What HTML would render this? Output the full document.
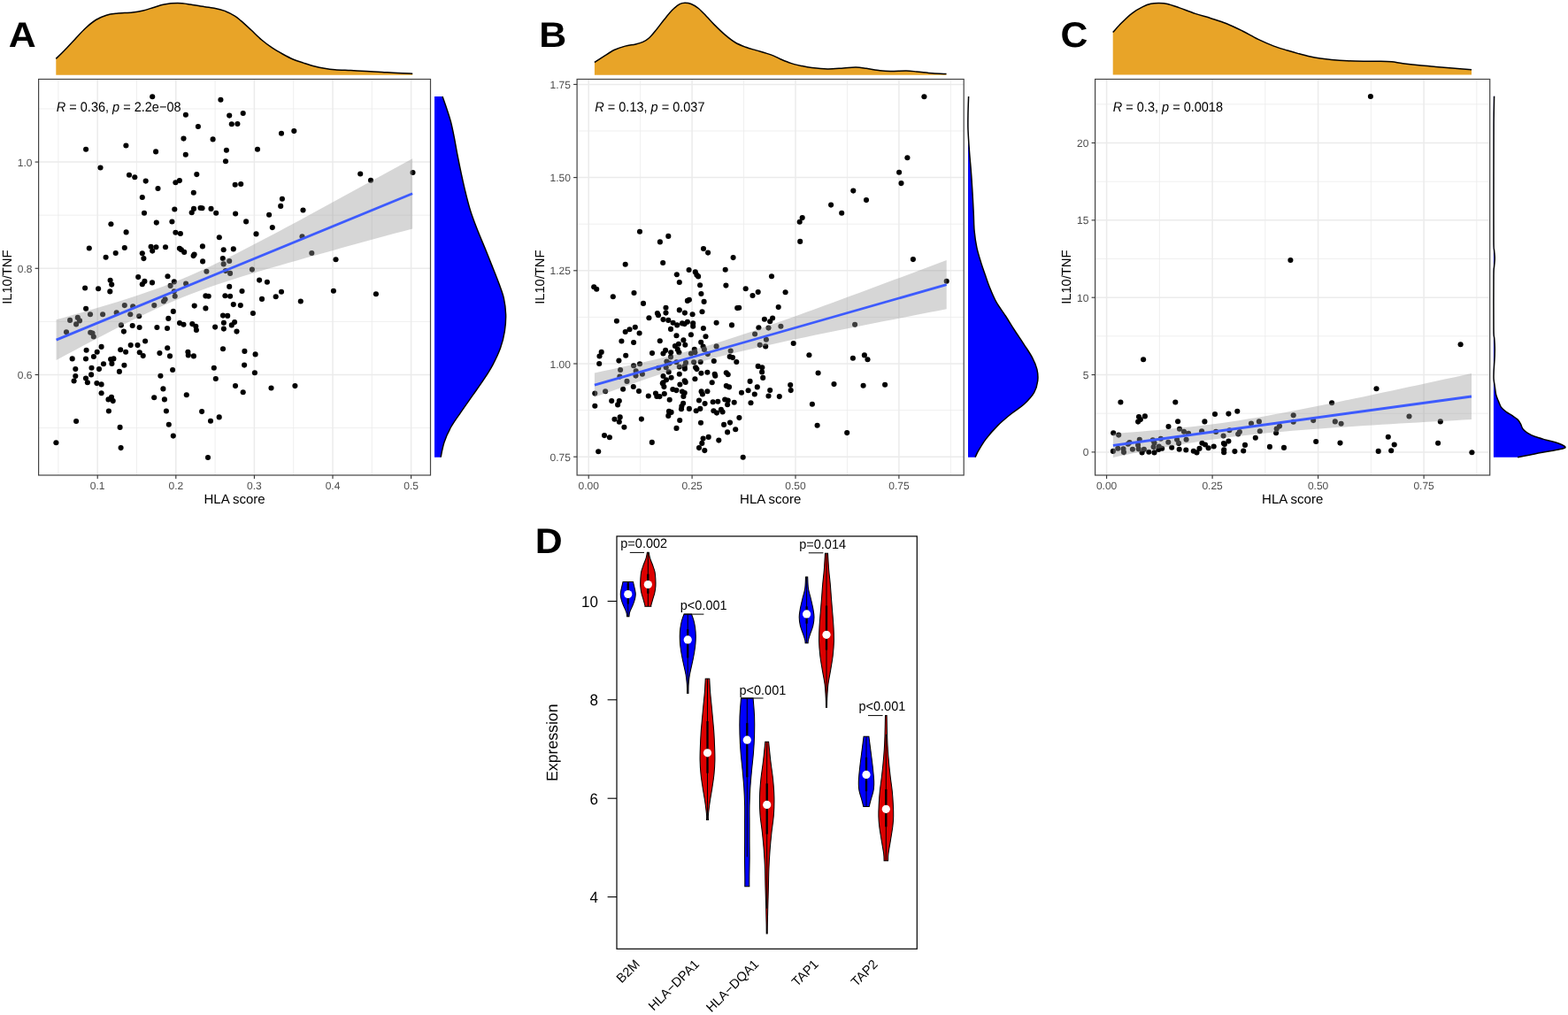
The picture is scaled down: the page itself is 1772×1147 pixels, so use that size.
<!DOCTYPE html>
<html><head><meta charset="utf-8"><style>
html,body{margin:0;padding:0;background:#fff;overflow:hidden;}
svg{display:block;}
</style></head><body>
<svg width="1772" height="1147" viewBox="0 0 1772 1147" style="font-family:'Liberation Sans',Arial,sans-serif;text-rendering:geometricPrecision">
<rect width="1772" height="1147" fill="#fff"/>
<g>
<line x1="43.6" y1="483.61" x2="486.5" y2="483.61" stroke="#EBEBEB" stroke-width="0.8"/>
<line x1="43.6" y1="363.39" x2="486.5" y2="363.39" stroke="#EBEBEB" stroke-width="0.8"/>
<line x1="43.6" y1="243.17" x2="486.5" y2="243.17" stroke="#EBEBEB" stroke-width="0.8"/>
<line x1="43.6" y1="122.95" x2="486.5" y2="122.95" stroke="#EBEBEB" stroke-width="0.8"/>
<line x1="65.9" y1="89.5" x2="65.9" y2="537" stroke="#EBEBEB" stroke-width="0.8"/>
<line x1="154.5" y1="89.5" x2="154.5" y2="537" stroke="#EBEBEB" stroke-width="0.8"/>
<line x1="243.1" y1="89.5" x2="243.1" y2="537" stroke="#EBEBEB" stroke-width="0.8"/>
<line x1="331.7" y1="89.5" x2="331.7" y2="537" stroke="#EBEBEB" stroke-width="0.8"/>
<line x1="420.3" y1="89.5" x2="420.3" y2="537" stroke="#EBEBEB" stroke-width="0.8"/>
<line x1="43.6" y1="423.5" x2="486.5" y2="423.5" stroke="#EBEBEB" stroke-width="1.5"/>
<line x1="43.6" y1="303.28" x2="486.5" y2="303.28" stroke="#EBEBEB" stroke-width="1.5"/>
<line x1="43.6" y1="183.06" x2="486.5" y2="183.06" stroke="#EBEBEB" stroke-width="1.5"/>
<line x1="110.2" y1="89.5" x2="110.2" y2="537" stroke="#EBEBEB" stroke-width="1.5"/>
<line x1="198.8" y1="89.5" x2="198.8" y2="537" stroke="#EBEBEB" stroke-width="1.5"/>
<line x1="287.4" y1="89.5" x2="287.4" y2="537" stroke="#EBEBEB" stroke-width="1.5"/>
<line x1="376" y1="89.5" x2="376" y2="537" stroke="#EBEBEB" stroke-width="1.5"/>
<line x1="464.6" y1="89.5" x2="464.6" y2="537" stroke="#EBEBEB" stroke-width="1.5"/>
<circle cx="172.2" cy="109.3" r="3.05"/>
<circle cx="249.4" cy="112.8" r="3.05"/>
<circle cx="209.9" cy="129.8" r="3.05"/>
<circle cx="259.2" cy="130.6" r="3.05"/>
<circle cx="261.8" cy="140.3" r="3.05"/>
<circle cx="268.4" cy="140" r="3.05"/>
<circle cx="223.9" cy="143" r="3.05"/>
<circle cx="207.5" cy="156.6" r="3.05"/>
<circle cx="240.6" cy="157.4" r="3.05"/>
<circle cx="142.4" cy="164.5" r="3.05"/>
<circle cx="97.1" cy="168.8" r="3.05"/>
<circle cx="176.1" cy="171.4" r="3.05"/>
<circle cx="209.8" cy="174.7" r="3.05"/>
<circle cx="255.9" cy="169.8" r="3.05"/>
<circle cx="255" cy="182.3" r="3.05"/>
<circle cx="113.5" cy="189.5" r="3.05"/>
<circle cx="146" cy="197.8" r="3.05"/>
<circle cx="152.3" cy="200.2" r="3.05"/>
<circle cx="164.7" cy="204.6" r="3.05"/>
<circle cx="198.4" cy="206.2" r="3.05"/>
<circle cx="202.9" cy="204.1" r="3.05"/>
<circle cx="222.3" cy="197.1" r="3.05"/>
<circle cx="265.7" cy="208.7" r="3.05"/>
<circle cx="178.5" cy="213" r="3.05"/>
<circle cx="218.8" cy="217.7" r="3.05"/>
<circle cx="160.8" cy="223" r="3.05"/>
<circle cx="274.7" cy="128" r="3.05"/>
<circle cx="318" cy="150.7" r="3.05"/>
<circle cx="332.3" cy="148.1" r="3.05"/>
<circle cx="291" cy="168.8" r="3.05"/>
<circle cx="407.2" cy="196.5" r="3.05"/>
<circle cx="419" cy="203.7" r="3.05"/>
<circle cx="466.5" cy="195" r="3.05"/>
<circle cx="272.2" cy="208" r="3.05"/>
<circle cx="318.9" cy="224.8" r="3.05"/>
<circle cx="317.2" cy="232.9" r="3.05"/>
<circle cx="342.5" cy="237.5" r="3.05"/>
<circle cx="163" cy="240.7" r="3.05"/>
<circle cx="197.3" cy="236.5" r="3.05"/>
<circle cx="216.7" cy="240.2" r="3.05"/>
<circle cx="219" cy="235.9" r="3.05"/>
<circle cx="226.5" cy="235" r="3.05"/>
<circle cx="228.5" cy="235.2" r="3.05"/>
<circle cx="238.5" cy="235.9" r="3.05"/>
<circle cx="244.2" cy="240.7" r="3.05"/>
<circle cx="266.1" cy="241.5" r="3.05"/>
<circle cx="125.4" cy="253.2" r="3.05"/>
<circle cx="176.8" cy="251.6" r="3.05"/>
<circle cx="194.4" cy="250.5" r="3.05"/>
<circle cx="142.6" cy="262.4" r="3.05"/>
<circle cx="198.4" cy="262.7" r="3.05"/>
<circle cx="203.9" cy="264" r="3.05"/>
<circle cx="247.8" cy="268.3" r="3.05"/>
<circle cx="100.8" cy="280.5" r="3.05"/>
<circle cx="140.8" cy="280" r="3.05"/>
<circle cx="130.7" cy="286" r="3.05"/>
<circle cx="119.6" cy="290.8" r="3.05"/>
<circle cx="160.8" cy="286.3" r="3.05"/>
<circle cx="162.4" cy="292.1" r="3.05"/>
<circle cx="170.6" cy="278.7" r="3.05"/>
<circle cx="176.4" cy="279.2" r="3.05"/>
<circle cx="172.2" cy="283.6" r="3.05"/>
<circle cx="187" cy="279.3" r="3.05"/>
<circle cx="202.9" cy="280.8" r="3.05"/>
<circle cx="204.9" cy="282.3" r="3.05"/>
<circle cx="208.2" cy="284.9" r="3.05"/>
<circle cx="218.6" cy="289.1" r="3.05"/>
<circle cx="219.6" cy="287.6" r="3.05"/>
<circle cx="228.9" cy="278.4" r="3.05"/>
<circle cx="229.1" cy="295.4" r="3.05"/>
<circle cx="252.7" cy="282.3" r="3.05"/>
<circle cx="263.8" cy="281.4" r="3.05"/>
<circle cx="251.8" cy="292.1" r="3.05"/>
<circle cx="259.2" cy="295" r="3.05"/>
<circle cx="252.7" cy="298.4" r="3.05"/>
<circle cx="233.4" cy="306.8" r="3.05"/>
<circle cx="254.9" cy="306.1" r="3.05"/>
<circle cx="260.1" cy="308.9" r="3.05"/>
<circle cx="156.2" cy="313.1" r="3.05"/>
<circle cx="189.5" cy="312.2" r="3.05"/>
<circle cx="196.8" cy="318.4" r="3.05"/>
<circle cx="192.6" cy="322.9" r="3.05"/>
<circle cx="210.1" cy="320.5" r="3.05"/>
<circle cx="124.6" cy="316.7" r="3.05"/>
<circle cx="126.2" cy="321.6" r="3.05"/>
<circle cx="163.4" cy="317.9" r="3.05"/>
<circle cx="160.8" cy="321.2" r="3.05"/>
<circle cx="172" cy="319.4" r="3.05"/>
<circle cx="96.1" cy="325.5" r="3.05"/>
<circle cx="111.1" cy="326.2" r="3.05"/>
<circle cx="124.3" cy="329.4" r="3.05"/>
<circle cx="259.2" cy="323.9" r="3.05"/>
<circle cx="196.8" cy="329.2" r="3.05"/>
<circle cx="197.7" cy="334.7" r="3.05"/>
<circle cx="186.6" cy="338.3" r="3.05"/>
<circle cx="185" cy="340.5" r="3.05"/>
<circle cx="232.4" cy="334.4" r="3.05"/>
<circle cx="235.7" cy="334.7" r="3.05"/>
<circle cx="254.4" cy="334.3" r="3.05"/>
<circle cx="260.1" cy="334.7" r="3.05"/>
<circle cx="140.8" cy="345.1" r="3.05"/>
<circle cx="150.2" cy="346.2" r="3.05"/>
<circle cx="174.3" cy="345.1" r="3.05"/>
<circle cx="97.1" cy="348.7" r="3.05"/>
<circle cx="219.7" cy="345.6" r="3.05"/>
<circle cx="232.4" cy="348.4" r="3.05"/>
<circle cx="263.8" cy="344.1" r="3.05"/>
<circle cx="102" cy="355.2" r="3.05"/>
<circle cx="116.1" cy="355.3" r="3.05"/>
<circle cx="131.7" cy="353.4" r="3.05"/>
<circle cx="147.3" cy="355.3" r="3.05"/>
<circle cx="157.2" cy="357.3" r="3.05"/>
<circle cx="195.8" cy="351.9" r="3.05"/>
<circle cx="190.3" cy="359.9" r="3.05"/>
<circle cx="252" cy="356.6" r="3.05"/>
<circle cx="257.2" cy="356.9" r="3.05"/>
<circle cx="79.1" cy="361.9" r="3.05"/>
<circle cx="87.8" cy="358.9" r="3.05"/>
<circle cx="90" cy="362.4" r="3.05"/>
<circle cx="86.1" cy="366.4" r="3.05"/>
<circle cx="75" cy="375.2" r="3.05"/>
<circle cx="102.2" cy="375.7" r="3.05"/>
<circle cx="104.5" cy="376.5" r="3.05"/>
<circle cx="105.8" cy="380.5" r="3.05"/>
<circle cx="136.9" cy="367.4" r="3.05"/>
<circle cx="139.9" cy="374.6" r="3.05"/>
<circle cx="149.7" cy="368" r="3.05"/>
<circle cx="157.6" cy="370" r="3.05"/>
<circle cx="177.4" cy="370" r="3.05"/>
<circle cx="189" cy="371" r="3.05"/>
<circle cx="203" cy="365.1" r="3.05"/>
<circle cx="207.5" cy="366.7" r="3.05"/>
<circle cx="217.3" cy="366.1" r="3.05"/>
<circle cx="221.3" cy="368.7" r="3.05"/>
<circle cx="221.9" cy="373" r="3.05"/>
<circle cx="243.1" cy="369.6" r="3.05"/>
<circle cx="252.9" cy="364.7" r="3.05"/>
<circle cx="252.9" cy="371.6" r="3.05"/>
<circle cx="261.8" cy="367.4" r="3.05"/>
<circle cx="265.1" cy="364.1" r="3.05"/>
<circle cx="267.5" cy="374.6" r="3.05"/>
<circle cx="304.1" cy="242.7" r="3.05"/>
<circle cx="278.1" cy="250.4" r="3.05"/>
<circle cx="307.8" cy="257.1" r="3.05"/>
<circle cx="289.5" cy="264.4" r="3.05"/>
<circle cx="341.5" cy="267.3" r="3.05"/>
<circle cx="352.3" cy="286" r="3.05"/>
<circle cx="379.5" cy="293.2" r="3.05"/>
<circle cx="284.9" cy="304.6" r="3.05"/>
<circle cx="293.1" cy="316.6" r="3.05"/>
<circle cx="301.9" cy="318.7" r="3.05"/>
<circle cx="273.5" cy="329" r="3.05"/>
<circle cx="318" cy="329.7" r="3.05"/>
<circle cx="311.7" cy="335.3" r="3.05"/>
<circle cx="296" cy="337.9" r="3.05"/>
<circle cx="376.9" cy="328.8" r="3.05"/>
<circle cx="424.9" cy="332.3" r="3.05"/>
<circle cx="339.8" cy="340.5" r="3.05"/>
<circle cx="271.8" cy="345.1" r="3.05"/>
<circle cx="285.9" cy="354" r="3.05"/>
<circle cx="164.1" cy="385.5" r="3.05"/>
<circle cx="147.7" cy="390.1" r="3.05"/>
<circle cx="155.5" cy="390.1" r="3.05"/>
<circle cx="114.6" cy="391.9" r="3.05"/>
<circle cx="97.6" cy="395.8" r="3.05"/>
<circle cx="109.7" cy="397.8" r="3.05"/>
<circle cx="136.2" cy="395.2" r="3.05"/>
<circle cx="142.1" cy="397.8" r="3.05"/>
<circle cx="157.8" cy="398.2" r="3.05"/>
<circle cx="161.7" cy="402.1" r="3.05"/>
<circle cx="189.2" cy="393.2" r="3.05"/>
<circle cx="180.4" cy="399.1" r="3.05"/>
<circle cx="192" cy="402.4" r="3.05"/>
<circle cx="212.4" cy="397.8" r="3.05"/>
<circle cx="212.8" cy="401.4" r="3.05"/>
<circle cx="218.9" cy="402.4" r="3.05"/>
<circle cx="252" cy="394.2" r="3.05"/>
<circle cx="81.7" cy="405.4" r="3.05"/>
<circle cx="97" cy="405.5" r="3.05"/>
<circle cx="105.9" cy="403" r="3.05"/>
<circle cx="125.1" cy="406" r="3.05"/>
<circle cx="128.4" cy="405.4" r="3.05"/>
<circle cx="126.4" cy="410.9" r="3.05"/>
<circle cx="117" cy="411.2" r="3.05"/>
<circle cx="140.4" cy="412.8" r="3.05"/>
<circle cx="85.3" cy="417" r="3.05"/>
<circle cx="103.5" cy="415.8" r="3.05"/>
<circle cx="112" cy="417.1" r="3.05"/>
<circle cx="134.9" cy="419.9" r="3.05"/>
<circle cx="195.1" cy="418" r="3.05"/>
<circle cx="241.8" cy="415.8" r="3.05"/>
<circle cx="85.3" cy="425" r="3.05"/>
<circle cx="103.1" cy="423.4" r="3.05"/>
<circle cx="97" cy="427.6" r="3.05"/>
<circle cx="83.6" cy="430.5" r="3.05"/>
<circle cx="98.9" cy="432.2" r="3.05"/>
<circle cx="109.4" cy="433.1" r="3.05"/>
<circle cx="114.6" cy="434.4" r="3.05"/>
<circle cx="181.4" cy="424.7" r="3.05"/>
<circle cx="243.8" cy="428" r="3.05"/>
<circle cx="266" cy="436.1" r="3.05"/>
<circle cx="184.4" cy="439.4" r="3.05"/>
<circle cx="114.6" cy="444.3" r="3.05"/>
<circle cx="126" cy="448.8" r="3.05"/>
<circle cx="122.5" cy="451.4" r="3.05"/>
<circle cx="127.7" cy="453.1" r="3.05"/>
<circle cx="174.2" cy="449.2" r="3.05"/>
<circle cx="185.9" cy="451.4" r="3.05"/>
<circle cx="210.8" cy="446.2" r="3.05"/>
<circle cx="122.9" cy="464.5" r="3.05"/>
<circle cx="187.9" cy="464.5" r="3.05"/>
<circle cx="228.1" cy="465.1" r="3.05"/>
<circle cx="247.7" cy="471.4" r="3.05"/>
<circle cx="238" cy="475.7" r="3.05"/>
<circle cx="86.1" cy="476" r="3.05"/>
<circle cx="135.6" cy="482.9" r="3.05"/>
<circle cx="190.8" cy="479.7" r="3.05"/>
<circle cx="195.8" cy="492.6" r="3.05"/>
<circle cx="63.4" cy="500.2" r="3.05"/>
<circle cx="136.6" cy="506.1" r="3.05"/>
<circle cx="235" cy="517" r="3.05"/>
<circle cx="276.4" cy="396.9" r="3.05"/>
<circle cx="288.6" cy="400.4" r="3.05"/>
<circle cx="276.1" cy="412.6" r="3.05"/>
<circle cx="287.9" cy="421.3" r="3.05"/>
<circle cx="274.7" cy="443.3" r="3.05"/>
<circle cx="306.5" cy="438.5" r="3.05"/>
<circle cx="333.4" cy="436.1" r="3.05"/>
<path d="M63.6,361.25 L73.66,358.4 L83.72,355.53 L93.79,352.64 L103.85,349.71 L113.91,346.74 L123.97,343.71 L134.04,340.63 L144.1,337.47 L154.16,334.21 L164.22,330.84 L174.29,327.33 L184.35,323.65 L194.41,319.8 L204.47,315.74 L214.54,311.49 L224.6,307.03 L234.66,302.4 L244.72,297.61 L254.79,292.69 L264.85,287.66 L274.91,282.54 L284.98,277.34 L295.04,272.08 L305.1,266.78 L315.16,261.44 L325.23,256.06 L335.29,250.66 L345.35,245.23 L355.41,239.79 L365.48,234.33 L375.54,228.85 L385.6,223.37 L395.66,217.87 L405.73,212.36 L415.79,206.85 L425.85,201.33 L435.91,195.81 L445.98,190.27 L456.04,184.74 L466.1,179.2 L466.1,258.4 L456.04,261.13 L445.98,263.86 L435.91,266.59 L425.85,269.33 L415.79,272.07 L405.73,274.83 L395.66,277.58 L385.6,280.35 L375.54,283.13 L365.48,285.92 L355.41,288.73 L345.35,291.55 L335.29,294.39 L325.23,297.25 L315.16,300.14 L305.1,303.06 L295.04,306.02 L284.98,309.03 L274.91,312.1 L264.85,315.24 L254.79,318.48 L244.72,321.82 L234.66,325.29 L224.6,328.93 L214.54,332.74 L204.47,336.75 L194.41,340.96 L184.35,345.37 L174.29,349.96 L164.22,354.71 L154.16,359.6 L144.1,364.61 L134.04,369.72 L123.97,374.9 L113.91,380.14 L103.85,385.43 L93.79,390.77 L83.72,396.14 L73.66,401.53 L63.6,406.95Z" fill="#999999" fill-opacity="0.4"/>
<line x1="63.6" y1="384.1" x2="466.1" y2="218.8" stroke="#3D5BFE" stroke-width="2.8"/>
<rect x="43.6" y="89.5" width="442.9" height="447.5" fill="none" stroke="#444444" stroke-width="1.2"/>
<line x1="110.2" y1="537" x2="110.2" y2="541" stroke="#333333" stroke-width="1.1"/>
<text transform="translate(110.2,553) scale(1,1.0)" text-anchor="middle" font-size="12" fill="#4D4D4D">0.1</text>
<line x1="198.8" y1="537" x2="198.8" y2="541" stroke="#333333" stroke-width="1.1"/>
<text transform="translate(198.8,553) scale(1,1.0)" text-anchor="middle" font-size="12" fill="#4D4D4D">0.2</text>
<line x1="287.4" y1="537" x2="287.4" y2="541" stroke="#333333" stroke-width="1.1"/>
<text transform="translate(287.4,553) scale(1,1.0)" text-anchor="middle" font-size="12" fill="#4D4D4D">0.3</text>
<line x1="376" y1="537" x2="376" y2="541" stroke="#333333" stroke-width="1.1"/>
<text transform="translate(376,553) scale(1,1.0)" text-anchor="middle" font-size="12" fill="#4D4D4D">0.4</text>
<line x1="464.6" y1="537" x2="464.6" y2="541" stroke="#333333" stroke-width="1.1"/>
<text transform="translate(464.6,553) scale(1,1.0)" text-anchor="middle" font-size="12" fill="#4D4D4D">0.5</text>
<line x1="39.6" y1="423.5" x2="43.6" y2="423.5" stroke="#333333" stroke-width="1.1"/>
<text transform="translate(36.4,428) scale(1,1.0)" text-anchor="end" font-size="12" fill="#4D4D4D">0.6</text>
<line x1="39.6" y1="303.28" x2="43.6" y2="303.28" stroke="#333333" stroke-width="1.1"/>
<text transform="translate(36.4,307.78) scale(1,1.0)" text-anchor="end" font-size="12" fill="#4D4D4D">0.8</text>
<line x1="39.6" y1="183.06" x2="43.6" y2="183.06" stroke="#333333" stroke-width="1.1"/>
<text transform="translate(36.4,187.56) scale(1,1.0)" text-anchor="end" font-size="12" fill="#4D4D4D">1.0</text>
<text transform="translate(265.05,569) scale(1,1.0)" text-anchor="middle" font-size="15">HLA score</text>
<text transform="translate(12.82,313.25) rotate(-90) scale(1,1.0)" text-anchor="middle" font-size="14.7">IL10/TNF</text>
<text transform="translate(63.8,125.6) scale(1,1.06)" font-size="14.5"><tspan font-style="italic">R</tspan> = 0.36, <tspan font-style="italic">p</tspan> = 2.2e−08</text>
<text transform="translate(9.7,52.9) scale(1.07,1)" font-size="40" font-weight="bold">A</text>
<path d="M63.3,84.8 L63.3,66.4 C64.88,64.82 69.25,60.57 72.8,56.9 C76.35,53.23 80.65,48.55 84.6,44.4 C88.55,40.25 92.55,35.65 96.5,32 C100.45,28.35 104.35,24.97 108.3,22.5 C112.25,20.03 116.25,18.42 120.2,17.2 C124.15,15.98 127.07,15.73 132,15.2 C136.93,14.67 144.85,14.55 149.8,14 C154.75,13.45 157.75,12.82 161.7,11.9 C165.65,10.98 169.55,9.65 173.5,8.5 C177.45,7.35 180.85,5.82 185.4,5 C189.95,4.18 195.87,3.6 200.8,3.6 C205.73,3.6 210.67,4.42 215,5 C219.33,5.58 222.27,6.4 226.8,7.1 C231.33,7.8 237.65,8.32 242.2,9.2 C246.75,10.08 250.3,10.97 254.1,12.4 C257.9,13.83 262.03,16.02 265,17.8 C267.97,19.58 268.78,20.43 271.9,23.1 C275.02,25.77 279.75,30.15 283.7,33.8 C287.65,37.45 291.65,41.65 295.6,45 C299.55,48.35 303.45,51.23 307.4,53.9 C311.35,56.57 315.35,58.82 319.3,61 C323.25,63.18 327.15,65.32 331.1,67 C335.05,68.68 339.05,69.82 343,71.1 C346.95,72.38 350.85,73.67 354.8,74.7 C358.75,75.73 362.75,76.62 366.7,77.3 C370.65,77.98 373.57,78.42 378.5,78.8 C383.43,79.18 390.37,79.33 396.3,79.6 C402.23,79.87 408.18,80.08 414.1,80.4 C420.02,80.72 425.88,81.13 431.8,81.5 C437.72,81.87 443.87,82.32 449.6,82.6 C455.33,82.88 463.43,83.1 466.2,83.2 L466.2,84.8 Z" fill="#E8A428"/>
<path d="M63.3,66.4 C64.88,64.82 69.25,60.57 72.8,56.9 C76.35,53.23 80.65,48.55 84.6,44.4 C88.55,40.25 92.55,35.65 96.5,32 C100.45,28.35 104.35,24.97 108.3,22.5 C112.25,20.03 116.25,18.42 120.2,17.2 C124.15,15.98 127.07,15.73 132,15.2 C136.93,14.67 144.85,14.55 149.8,14 C154.75,13.45 157.75,12.82 161.7,11.9 C165.65,10.98 169.55,9.65 173.5,8.5 C177.45,7.35 180.85,5.82 185.4,5 C189.95,4.18 195.87,3.6 200.8,3.6 C205.73,3.6 210.67,4.42 215,5 C219.33,5.58 222.27,6.4 226.8,7.1 C231.33,7.8 237.65,8.32 242.2,9.2 C246.75,10.08 250.3,10.97 254.1,12.4 C257.9,13.83 262.03,16.02 265,17.8 C267.97,19.58 268.78,20.43 271.9,23.1 C275.02,25.77 279.75,30.15 283.7,33.8 C287.65,37.45 291.65,41.65 295.6,45 C299.55,48.35 303.45,51.23 307.4,53.9 C311.35,56.57 315.35,58.82 319.3,61 C323.25,63.18 327.15,65.32 331.1,67 C335.05,68.68 339.05,69.82 343,71.1 C346.95,72.38 350.85,73.67 354.8,74.7 C358.75,75.73 362.75,76.62 366.7,77.3 C370.65,77.98 373.57,78.42 378.5,78.8 C383.43,79.18 390.37,79.33 396.3,79.6 C402.23,79.87 408.18,80.08 414.1,80.4 C420.02,80.72 425.88,81.13 431.8,81.5 C437.72,81.87 443.87,82.32 449.6,82.6 C455.33,82.88 463.43,83.1 466.2,83.2" fill="none" stroke="#000" stroke-width="1.5"/>
<path d="M491,109 L500,109 C500.78,111.25 503.13,117.75 504.7,122.5 C506.27,127.25 508,132.2 509.4,137.5 C510.8,142.8 511.85,148.05 513.1,154.3 C514.35,160.55 515.5,167.82 516.9,175 C518.3,182.18 519.95,190.23 521.5,197.4 C523.05,204.57 524.48,211.12 526.2,218 C527.92,224.88 529.62,231.82 531.8,238.7 C533.98,245.58 536.63,252.43 539.3,259.3 C541.97,266.17 545.13,273.35 547.8,279.9 C550.47,286.45 552.65,291.92 555.3,298.6 C557.95,305.28 561.37,313.62 563.7,320 C566.03,326.38 567.98,330.97 569.3,336.9 C570.62,342.83 571.43,349.37 571.6,355.6 C571.77,361.83 571.3,368.05 570.3,374.3 C569.3,380.55 567.8,386.85 565.6,393.1 C563.4,399.35 560.23,405.87 557.1,411.8 C553.97,417.73 550.7,422.77 546.8,428.7 C542.9,434.63 538.07,441.17 533.7,447.4 C529.33,453.63 524.65,460.17 520.6,466.1 C516.55,472.03 512.52,477.37 509.4,483 C506.28,488.63 503.78,494.28 501.9,499.9 C500.02,505.52 498.73,513.9 498.1,516.7 L491,516.7 Z" fill="#0000FF"/>
<path d="M500,109 C500.78,111.25 503.13,117.75 504.7,122.5 C506.27,127.25 508,132.2 509.4,137.5 C510.8,142.8 511.85,148.05 513.1,154.3 C514.35,160.55 515.5,167.82 516.9,175 C518.3,182.18 519.95,190.23 521.5,197.4 C523.05,204.57 524.48,211.12 526.2,218 C527.92,224.88 529.62,231.82 531.8,238.7 C533.98,245.58 536.63,252.43 539.3,259.3 C541.97,266.17 545.13,273.35 547.8,279.9 C550.47,286.45 552.65,291.92 555.3,298.6 C557.95,305.28 561.37,313.62 563.7,320 C566.03,326.38 567.98,330.97 569.3,336.9 C570.62,342.83 571.43,349.37 571.6,355.6 C571.77,361.83 571.3,368.05 570.3,374.3 C569.3,380.55 567.8,386.85 565.6,393.1 C563.4,399.35 560.23,405.87 557.1,411.8 C553.97,417.73 550.7,422.77 546.8,428.7 C542.9,434.63 538.07,441.17 533.7,447.4 C529.33,453.63 524.65,460.17 520.6,466.1 C516.55,472.03 512.52,477.37 509.4,483 C506.28,488.63 503.78,494.28 501.9,499.9 C500.02,505.52 498.73,513.9 498.1,516.7" fill="none" stroke="#000" stroke-width="1.5"/>
</g>
<g>
<line x1="652.1" y1="463.6" x2="1089.2" y2="463.6" stroke="#EBEBEB" stroke-width="0.8"/>
<line x1="652.1" y1="358.4" x2="1089.2" y2="358.4" stroke="#EBEBEB" stroke-width="0.8"/>
<line x1="652.1" y1="253.2" x2="1089.2" y2="253.2" stroke="#EBEBEB" stroke-width="0.8"/>
<line x1="652.1" y1="148" x2="1089.2" y2="148" stroke="#EBEBEB" stroke-width="0.8"/>
<line x1="723.65" y1="89.5" x2="723.65" y2="537" stroke="#EBEBEB" stroke-width="0.8"/>
<line x1="840.55" y1="89.5" x2="840.55" y2="537" stroke="#EBEBEB" stroke-width="0.8"/>
<line x1="957.45" y1="89.5" x2="957.45" y2="537" stroke="#EBEBEB" stroke-width="0.8"/>
<line x1="1074.35" y1="89.5" x2="1074.35" y2="537" stroke="#EBEBEB" stroke-width="0.8"/>
<line x1="652.1" y1="516.2" x2="1089.2" y2="516.2" stroke="#EBEBEB" stroke-width="1.5"/>
<line x1="652.1" y1="411" x2="1089.2" y2="411" stroke="#EBEBEB" stroke-width="1.5"/>
<line x1="652.1" y1="305.8" x2="1089.2" y2="305.8" stroke="#EBEBEB" stroke-width="1.5"/>
<line x1="652.1" y1="200.6" x2="1089.2" y2="200.6" stroke="#EBEBEB" stroke-width="1.5"/>
<line x1="652.1" y1="95.4" x2="1089.2" y2="95.4" stroke="#EBEBEB" stroke-width="1.5"/>
<line x1="665.2" y1="89.5" x2="665.2" y2="537" stroke="#EBEBEB" stroke-width="1.5"/>
<line x1="782.1" y1="89.5" x2="782.1" y2="537" stroke="#EBEBEB" stroke-width="1.5"/>
<line x1="899" y1="89.5" x2="899" y2="537" stroke="#EBEBEB" stroke-width="1.5"/>
<line x1="1015.9" y1="89.5" x2="1015.9" y2="537" stroke="#EBEBEB" stroke-width="1.5"/>
<circle cx="1044.4" cy="109.3" r="3.05"/>
<circle cx="1025.4" cy="178.2" r="3.05"/>
<circle cx="1016.1" cy="194.7" r="3.05"/>
<circle cx="1018.5" cy="207.1" r="3.05"/>
<circle cx="964.3" cy="215.6" r="3.05"/>
<circle cx="979" cy="226.1" r="3.05"/>
<circle cx="939.1" cy="231.6" r="3.05"/>
<circle cx="951.2" cy="240.7" r="3.05"/>
<circle cx="906.7" cy="246.1" r="3.05"/>
<circle cx="903.7" cy="250.7" r="3.05"/>
<circle cx="904.2" cy="272.9" r="3.05"/>
<circle cx="1031.9" cy="293.1" r="3.05"/>
<circle cx="723" cy="261.7" r="3.05"/>
<circle cx="755.3" cy="266.9" r="3.05"/>
<circle cx="745.9" cy="273.4" r="3.05"/>
<circle cx="795" cy="281" r="3.05"/>
<circle cx="800.1" cy="285.6" r="3.05"/>
<circle cx="828.6" cy="291.1" r="3.05"/>
<circle cx="706.7" cy="298.7" r="3.05"/>
<circle cx="749.2" cy="297" r="3.05"/>
<circle cx="778.6" cy="305" r="3.05"/>
<circle cx="785.8" cy="307.4" r="3.05"/>
<circle cx="787.4" cy="310.8" r="3.05"/>
<circle cx="789.1" cy="312.4" r="3.05"/>
<circle cx="819.7" cy="304.8" r="3.05"/>
<circle cx="764.8" cy="310.2" r="3.05"/>
<circle cx="767.8" cy="319" r="3.05"/>
<circle cx="791.1" cy="322.2" r="3.05"/>
<circle cx="820.4" cy="322.6" r="3.05"/>
<circle cx="872" cy="312.2" r="3.05"/>
<circle cx="671.2" cy="324.2" r="3.05"/>
<circle cx="674.2" cy="326.8" r="3.05"/>
<circle cx="692.8" cy="335.3" r="3.05"/>
<circle cx="716.5" cy="331" r="3.05"/>
<circle cx="792.4" cy="332" r="3.05"/>
<circle cx="842.7" cy="326.2" r="3.05"/>
<circle cx="856.7" cy="330.1" r="3.05"/>
<circle cx="850.5" cy="334" r="3.05"/>
<circle cx="727" cy="342.9" r="3.05"/>
<circle cx="776.9" cy="339.9" r="3.05"/>
<circle cx="778.9" cy="338.8" r="3.05"/>
<circle cx="795.6" cy="340.9" r="3.05"/>
<circle cx="752.5" cy="347.7" r="3.05"/>
<circle cx="767.8" cy="350.4" r="3.05"/>
<circle cx="752.5" cy="353.6" r="3.05"/>
<circle cx="773.9" cy="353.6" r="3.05"/>
<circle cx="782.6" cy="355.2" r="3.05"/>
<circle cx="793.5" cy="352.3" r="3.05"/>
<circle cx="833.2" cy="348.1" r="3.05"/>
<circle cx="835.2" cy="347.7" r="3.05"/>
<circle cx="742.9" cy="354" r="3.05"/>
<circle cx="744" cy="356.2" r="3.05"/>
<circle cx="733.4" cy="359.3" r="3.05"/>
<circle cx="696.9" cy="362.8" r="3.05"/>
<circle cx="749.5" cy="361.1" r="3.05"/>
<circle cx="755.3" cy="361.9" r="3.05"/>
<circle cx="760.6" cy="364.7" r="3.05"/>
<circle cx="765.2" cy="367.4" r="3.05"/>
<circle cx="771" cy="365.4" r="3.05"/>
<circle cx="773.7" cy="366.1" r="3.05"/>
<circle cx="776.9" cy="363.7" r="3.05"/>
<circle cx="783.2" cy="365.4" r="3.05"/>
<circle cx="783.2" cy="368.7" r="3.05"/>
<circle cx="809.6" cy="364.7" r="3.05"/>
<circle cx="827" cy="367.4" r="3.05"/>
<circle cx="863.9" cy="360.8" r="3.05"/>
<circle cx="870.2" cy="363.2" r="3.05"/>
<circle cx="873.1" cy="359.5" r="3.05"/>
<circle cx="717.8" cy="369.7" r="3.05"/>
<circle cx="711.5" cy="372.3" r="3.05"/>
<circle cx="706.7" cy="375" r="3.05"/>
<circle cx="758" cy="371.9" r="3.05"/>
<circle cx="794.9" cy="371" r="3.05"/>
<circle cx="857.4" cy="370.2" r="3.05"/>
<circle cx="868.5" cy="370.6" r="3.05"/>
<circle cx="722.6" cy="376.5" r="3.05"/>
<circle cx="764.5" cy="379.3" r="3.05"/>
<circle cx="780.9" cy="378.2" r="3.05"/>
<circle cx="797.5" cy="380.2" r="3.05"/>
<circle cx="853.1" cy="377.5" r="3.05"/>
<circle cx="887.6" cy="330.3" r="3.05"/>
<circle cx="879.7" cy="347.1" r="3.05"/>
<circle cx="882.4" cy="368.7" r="3.05"/>
<circle cx="966.1" cy="366.7" r="3.05"/>
<circle cx="1069.7" cy="317.7" r="3.05"/>
<circle cx="702.4" cy="385.5" r="3.05"/>
<circle cx="716.1" cy="387" r="3.05"/>
<circle cx="745.8" cy="385.3" r="3.05"/>
<circle cx="772.4" cy="384.4" r="3.05"/>
<circle cx="762.9" cy="391" r="3.05"/>
<circle cx="766.9" cy="388.7" r="3.05"/>
<circle cx="774.3" cy="389.7" r="3.05"/>
<circle cx="792.2" cy="386.8" r="3.05"/>
<circle cx="794.6" cy="391.6" r="3.05"/>
<circle cx="809.6" cy="391.4" r="3.05"/>
<circle cx="795.9" cy="394.9" r="3.05"/>
<circle cx="799.8" cy="400.1" r="3.05"/>
<circle cx="784.8" cy="394.9" r="3.05"/>
<circle cx="785.4" cy="398.2" r="3.05"/>
<circle cx="780.9" cy="399.5" r="3.05"/>
<circle cx="865.9" cy="383.8" r="3.05"/>
<circle cx="858.7" cy="389.7" r="3.05"/>
<circle cx="865.2" cy="391.4" r="3.05"/>
<circle cx="825.7" cy="396.5" r="3.05"/>
<circle cx="824.7" cy="403.1" r="3.05"/>
<circle cx="828" cy="404.1" r="3.05"/>
<circle cx="832.3" cy="409" r="3.05"/>
<circle cx="806.8" cy="408" r="3.05"/>
<circle cx="791.7" cy="409" r="3.05"/>
<circle cx="784.1" cy="409.3" r="3.05"/>
<circle cx="679.7" cy="397.9" r="3.05"/>
<circle cx="677.5" cy="402.5" r="3.05"/>
<circle cx="677.2" cy="411" r="3.05"/>
<circle cx="699.4" cy="407.6" r="3.05"/>
<circle cx="707.2" cy="401.7" r="3.05"/>
<circle cx="737" cy="399.1" r="3.05"/>
<circle cx="749.5" cy="399.5" r="3.05"/>
<circle cx="752.1" cy="395.9" r="3.05"/>
<circle cx="758.2" cy="398.2" r="3.05"/>
<circle cx="765.8" cy="394.9" r="3.05"/>
<circle cx="767.4" cy="398.2" r="3.05"/>
<circle cx="758" cy="403.4" r="3.05"/>
<circle cx="753.4" cy="408.6" r="3.05"/>
<circle cx="756.7" cy="410.6" r="3.05"/>
<circle cx="764.5" cy="409.3" r="3.05"/>
<circle cx="775" cy="409.9" r="3.05"/>
<circle cx="773.7" cy="413.9" r="3.05"/>
<circle cx="767.8" cy="414.5" r="3.05"/>
<circle cx="773.9" cy="416.7" r="3.05"/>
<circle cx="786.1" cy="415.2" r="3.05"/>
<circle cx="787.4" cy="417.1" r="3.05"/>
<circle cx="716.1" cy="413.2" r="3.05"/>
<circle cx="723" cy="411.2" r="3.05"/>
<circle cx="701.1" cy="418" r="3.05"/>
<circle cx="700.4" cy="425.6" r="3.05"/>
<circle cx="718.7" cy="419.4" r="3.05"/>
<circle cx="718.5" cy="424.6" r="3.05"/>
<circle cx="725.9" cy="422.8" r="3.05"/>
<circle cx="744.2" cy="415.8" r="3.05"/>
<circle cx="752.7" cy="415.2" r="3.05"/>
<circle cx="755.7" cy="420.4" r="3.05"/>
<circle cx="749.5" cy="425" r="3.05"/>
<circle cx="758.6" cy="426.7" r="3.05"/>
<circle cx="767.8" cy="422.8" r="3.05"/>
<circle cx="753" cy="429.3" r="3.05"/>
<circle cx="749.5" cy="432.4" r="3.05"/>
<circle cx="750.4" cy="437.1" r="3.05"/>
<circle cx="748.8" cy="433.2" r="3.05"/>
<circle cx="773.7" cy="430.2" r="3.05"/>
<circle cx="774.7" cy="431.9" r="3.05"/>
<circle cx="768.4" cy="434.5" r="3.05"/>
<circle cx="785.4" cy="428.3" r="3.05"/>
<circle cx="792.4" cy="421.7" r="3.05"/>
<circle cx="799.4" cy="420.7" r="3.05"/>
<circle cx="807.7" cy="422.8" r="3.05"/>
<circle cx="808.3" cy="424.7" r="3.05"/>
<circle cx="804.7" cy="432.2" r="3.05"/>
<circle cx="820.8" cy="421.3" r="3.05"/>
<circle cx="822.7" cy="423.3" r="3.05"/>
<circle cx="856.7" cy="413.9" r="3.05"/>
<circle cx="861.3" cy="415.2" r="3.05"/>
<circle cx="861.1" cy="420.4" r="3.05"/>
<circle cx="862.2" cy="426.9" r="3.05"/>
<circle cx="847.6" cy="430.9" r="3.05"/>
<circle cx="855.8" cy="437.4" r="3.05"/>
<circle cx="820.8" cy="436.1" r="3.05"/>
<circle cx="824" cy="437.4" r="3.05"/>
<circle cx="708.5" cy="430.9" r="3.05"/>
<circle cx="684.1" cy="442.3" r="3.05"/>
<circle cx="672.3" cy="444.6" r="3.05"/>
<circle cx="704.1" cy="439.8" r="3.05"/>
<circle cx="715.8" cy="437" r="3.05"/>
<circle cx="722" cy="442" r="3.05"/>
<circle cx="672.3" cy="458.7" r="3.05"/>
<circle cx="691.2" cy="453.1" r="3.05"/>
<circle cx="699.8" cy="453.1" r="3.05"/>
<circle cx="698.1" cy="457.4" r="3.05"/>
<circle cx="732.8" cy="447.5" r="3.05"/>
<circle cx="741" cy="444.6" r="3.05"/>
<circle cx="742.3" cy="447.9" r="3.05"/>
<circle cx="745.5" cy="448.1" r="3.05"/>
<circle cx="750.8" cy="445" r="3.05"/>
<circle cx="760.3" cy="440" r="3.05"/>
<circle cx="764.5" cy="441.1" r="3.05"/>
<circle cx="771" cy="442.6" r="3.05"/>
<circle cx="773.7" cy="444" r="3.05"/>
<circle cx="772.4" cy="447.9" r="3.05"/>
<circle cx="756.7" cy="451.8" r="3.05"/>
<circle cx="792.6" cy="442.4" r="3.05"/>
<circle cx="793.9" cy="445.5" r="3.05"/>
<circle cx="799.4" cy="442.3" r="3.05"/>
<circle cx="790" cy="452.5" r="3.05"/>
<circle cx="796.6" cy="456.1" r="3.05"/>
<circle cx="805.7" cy="454.2" r="3.05"/>
<circle cx="811.3" cy="453.8" r="3.05"/>
<circle cx="819.2" cy="451.5" r="3.05"/>
<circle cx="822.7" cy="452.5" r="3.05"/>
<circle cx="822.1" cy="457.3" r="3.05"/>
<circle cx="829.7" cy="454.7" r="3.05"/>
<circle cx="838" cy="443.7" r="3.05"/>
<circle cx="845.6" cy="441.3" r="3.05"/>
<circle cx="852.8" cy="445.5" r="3.05"/>
<circle cx="848.5" cy="455.3" r="3.05"/>
<circle cx="870.2" cy="441.1" r="3.05"/>
<circle cx="868.5" cy="447.5" r="3.05"/>
<circle cx="772.1" cy="455.7" r="3.05"/>
<circle cx="770.4" cy="459" r="3.05"/>
<circle cx="770" cy="462.3" r="3.05"/>
<circle cx="778.9" cy="461.9" r="3.05"/>
<circle cx="786.7" cy="464.2" r="3.05"/>
<circle cx="791.3" cy="461.9" r="3.05"/>
<circle cx="806.4" cy="464.2" r="3.05"/>
<circle cx="810" cy="466.6" r="3.05"/>
<circle cx="814.9" cy="462.9" r="3.05"/>
<circle cx="816.6" cy="465.5" r="3.05"/>
<circle cx="756" cy="464.9" r="3.05"/>
<circle cx="758.6" cy="465.9" r="3.05"/>
<circle cx="755.3" cy="469.9" r="3.05"/>
<circle cx="700.7" cy="471.4" r="3.05"/>
<circle cx="694.5" cy="473.8" r="3.05"/>
<circle cx="699.8" cy="476.7" r="3.05"/>
<circle cx="705.4" cy="482.8" r="3.05"/>
<circle cx="724.9" cy="473.6" r="3.05"/>
<circle cx="768.2" cy="475" r="3.05"/>
<circle cx="764.5" cy="483.9" r="3.05"/>
<circle cx="792" cy="477.7" r="3.05"/>
<circle cx="818.1" cy="479.9" r="3.05"/>
<circle cx="825" cy="477.6" r="3.05"/>
<circle cx="835.4" cy="472.1" r="3.05"/>
<circle cx="831.2" cy="485.2" r="3.05"/>
<circle cx="822.1" cy="488.4" r="3.05"/>
<circle cx="683" cy="492.1" r="3.05"/>
<circle cx="688.9" cy="494.3" r="3.05"/>
<circle cx="736.8" cy="499.9" r="3.05"/>
<circle cx="794.6" cy="495.6" r="3.05"/>
<circle cx="800.7" cy="493.9" r="3.05"/>
<circle cx="793.3" cy="500.9" r="3.05"/>
<circle cx="812.3" cy="497.6" r="3.05"/>
<circle cx="790" cy="506.1" r="3.05"/>
<circle cx="796.3" cy="509.1" r="3.05"/>
<circle cx="676.2" cy="510.3" r="3.05"/>
<circle cx="839.7" cy="516.8" r="3.05"/>
<circle cx="896.7" cy="388" r="3.05"/>
<circle cx="914.4" cy="401.2" r="3.05"/>
<circle cx="963.9" cy="404.7" r="3.05"/>
<circle cx="976.9" cy="401.4" r="3.05"/>
<circle cx="980.5" cy="406.3" r="3.05"/>
<circle cx="924.6" cy="421.5" r="3.05"/>
<circle cx="942.5" cy="434.1" r="3.05"/>
<circle cx="975.6" cy="435.8" r="3.05"/>
<circle cx="1000.1" cy="434.8" r="3.05"/>
<circle cx="893.2" cy="435.1" r="3.05"/>
<circle cx="893.7" cy="441.1" r="3.05"/>
<circle cx="880.8" cy="448.1" r="3.05"/>
<circle cx="917.9" cy="456.8" r="3.05"/>
<circle cx="923.6" cy="480.8" r="3.05"/>
<circle cx="957.2" cy="489.1" r="3.05"/>
<path d="M671.9,421.38 L681.85,419.29 L691.79,417.18 L701.74,415.04 L711.68,412.86 L721.62,410.63 L731.57,408.36 L741.51,406.02 L751.46,403.61 L761.4,401.12 L771.35,398.53 L781.29,395.85 L791.24,393.05 L801.18,390.14 L811.13,387.13 L821.08,384.02 L831.02,380.81 L840.97,377.53 L850.91,374.17 L860.86,370.76 L870.8,367.3 L880.75,363.79 L890.69,360.25 L900.63,356.68 L910.58,353.09 L920.53,349.47 L930.47,345.84 L940.41,342.19 L950.36,338.53 L960.31,334.86 L970.25,331.17 L980.2,327.48 L990.14,323.78 L1000.09,320.08 L1010.03,316.37 L1019.98,312.65 L1029.92,308.93 L1039.87,305.21 L1049.81,301.48 L1059.76,297.75 L1069.7,294.01 L1069.7,349.19 L1059.76,351.13 L1049.81,353.07 L1039.87,355.02 L1029.92,356.97 L1019.98,358.92 L1010.03,360.88 L1000.09,362.85 L990.14,364.82 L980.2,366.79 L970.25,368.78 L960.31,370.77 L950.36,372.77 L940.41,374.79 L930.47,376.81 L920.53,378.85 L910.58,380.91 L900.63,382.99 L890.69,385.1 L880.75,387.23 L870.8,389.4 L860.86,391.62 L850.91,393.88 L840.97,396.2 L831.02,398.59 L821.08,401.06 L811.13,403.62 L801.18,406.28 L791.24,409.05 L781.29,411.93 L771.35,414.92 L761.4,418.01 L751.46,421.19 L741.51,424.45 L731.57,427.79 L721.62,431.19 L711.68,434.64 L701.74,438.14 L691.79,441.67 L681.85,445.23 L671.9,448.82Z" fill="#999999" fill-opacity="0.4"/>
<line x1="671.9" y1="435.1" x2="1069.7" y2="321.6" stroke="#3D5BFE" stroke-width="2.8"/>
<rect x="652.1" y="89.5" width="437.1" height="447.5" fill="none" stroke="#444444" stroke-width="1.2"/>
<line x1="665.2" y1="537" x2="665.2" y2="541" stroke="#333333" stroke-width="1.1"/>
<text transform="translate(665.2,553) scale(1,1.0)" text-anchor="middle" font-size="12" fill="#4D4D4D">0.00</text>
<line x1="782.1" y1="537" x2="782.1" y2="541" stroke="#333333" stroke-width="1.1"/>
<text transform="translate(782.1,553) scale(1,1.0)" text-anchor="middle" font-size="12" fill="#4D4D4D">0.25</text>
<line x1="899" y1="537" x2="899" y2="541" stroke="#333333" stroke-width="1.1"/>
<text transform="translate(899,553) scale(1,1.0)" text-anchor="middle" font-size="12" fill="#4D4D4D">0.50</text>
<line x1="1015.9" y1="537" x2="1015.9" y2="541" stroke="#333333" stroke-width="1.1"/>
<text transform="translate(1015.9,553) scale(1,1.0)" text-anchor="middle" font-size="12" fill="#4D4D4D">0.75</text>
<line x1="648.1" y1="516.2" x2="652.1" y2="516.2" stroke="#333333" stroke-width="1.1"/>
<text transform="translate(644.9,520.7) scale(1,1.0)" text-anchor="end" font-size="12" fill="#4D4D4D">0.75</text>
<line x1="648.1" y1="411" x2="652.1" y2="411" stroke="#333333" stroke-width="1.1"/>
<text transform="translate(644.9,415.5) scale(1,1.0)" text-anchor="end" font-size="12" fill="#4D4D4D">1.00</text>
<line x1="648.1" y1="305.8" x2="652.1" y2="305.8" stroke="#333333" stroke-width="1.1"/>
<text transform="translate(644.9,310.3) scale(1,1.0)" text-anchor="end" font-size="12" fill="#4D4D4D">1.25</text>
<line x1="648.1" y1="200.6" x2="652.1" y2="200.6" stroke="#333333" stroke-width="1.1"/>
<text transform="translate(644.9,205.1) scale(1,1.0)" text-anchor="end" font-size="12" fill="#4D4D4D">1.50</text>
<line x1="648.1" y1="95.4" x2="652.1" y2="95.4" stroke="#333333" stroke-width="1.1"/>
<text transform="translate(644.9,99.9) scale(1,1.0)" text-anchor="end" font-size="12" fill="#4D4D4D">1.75</text>
<text transform="translate(870.65,569) scale(1,1.0)" text-anchor="middle" font-size="15">HLA score</text>
<text transform="translate(614.65,313.25) rotate(-90) scale(1,1.0)" text-anchor="middle" font-size="14.7">IL10/TNF</text>
<text transform="translate(672.3,125.6) scale(1,1.06)" font-size="14.5"><tspan font-style="italic">R</tspan> = 0.13, <tspan font-style="italic">p</tspan> = 0.037</text>
<text transform="translate(609.2,52.9) scale(1.07,1)" font-size="40" font-weight="bold">B</text>
<path d="M671.9,84.8 L671.9,70.5 C673.72,69.32 679.02,65.77 682.8,63.4 C686.58,61.03 690.65,58.18 694.6,56.3 C698.55,54.42 702.55,53.15 706.5,52.1 C710.45,51.05 714.95,50.78 718.3,50 C721.65,49.22 724.03,48.62 726.6,47.4 C729.17,46.18 731.13,45.07 733.7,42.7 C736.27,40.33 739.23,36.57 742,33.2 C744.77,29.83 747.33,26.15 750.3,22.5 C753.27,18.85 756.83,14.27 759.8,11.3 C762.77,8.33 765.73,6.03 768.1,4.7 C770.47,3.37 771.83,3.33 774,3.3 C776.17,3.27 778.53,3.47 781.1,4.5 C783.67,5.53 786.43,7.08 789.4,9.5 C792.37,11.92 795.93,15.93 798.9,19 C801.87,22.07 803.83,24.55 807.2,27.9 C810.57,31.25 815.15,35.75 819.1,39.1 C823.05,42.45 826.95,45.63 830.9,48 C834.85,50.37 838.85,51.82 842.8,53.3 C846.75,54.78 850.65,55.72 854.6,56.9 C858.55,58.08 863.1,59.32 866.5,60.4 C869.9,61.48 872.43,62.35 875,63.4 C877.57,64.45 878.78,65.37 881.9,66.7 C885.02,68.03 889.75,70.12 893.7,71.4 C897.65,72.68 901.65,73.55 905.6,74.4 C909.55,75.25 912.47,75.92 917.4,76.5 C922.33,77.08 929.27,77.82 935.2,77.9 C941.13,77.98 947.67,77.3 953,77 C958.33,76.7 962.87,76.05 967.2,76.1 C971.53,76.15 974.47,76.7 979,77.3 C983.53,77.9 989.85,79.17 994.4,79.7 C998.95,80.23 1001.35,80.43 1006.3,80.5 C1011.25,80.57 1019.17,80.03 1024.1,80.1 C1029.03,80.17 1030.97,80.47 1035.9,80.9 C1040.83,81.33 1048.1,82.25 1053.7,82.7 C1059.3,83.15 1066.87,83.45 1069.5,83.6 L1069.5,84.8 Z" fill="#E8A428"/>
<path d="M671.9,70.5 C673.72,69.32 679.02,65.77 682.8,63.4 C686.58,61.03 690.65,58.18 694.6,56.3 C698.55,54.42 702.55,53.15 706.5,52.1 C710.45,51.05 714.95,50.78 718.3,50 C721.65,49.22 724.03,48.62 726.6,47.4 C729.17,46.18 731.13,45.07 733.7,42.7 C736.27,40.33 739.23,36.57 742,33.2 C744.77,29.83 747.33,26.15 750.3,22.5 C753.27,18.85 756.83,14.27 759.8,11.3 C762.77,8.33 765.73,6.03 768.1,4.7 C770.47,3.37 771.83,3.33 774,3.3 C776.17,3.27 778.53,3.47 781.1,4.5 C783.67,5.53 786.43,7.08 789.4,9.5 C792.37,11.92 795.93,15.93 798.9,19 C801.87,22.07 803.83,24.55 807.2,27.9 C810.57,31.25 815.15,35.75 819.1,39.1 C823.05,42.45 826.95,45.63 830.9,48 C834.85,50.37 838.85,51.82 842.8,53.3 C846.75,54.78 850.65,55.72 854.6,56.9 C858.55,58.08 863.1,59.32 866.5,60.4 C869.9,61.48 872.43,62.35 875,63.4 C877.57,64.45 878.78,65.37 881.9,66.7 C885.02,68.03 889.75,70.12 893.7,71.4 C897.65,72.68 901.65,73.55 905.6,74.4 C909.55,75.25 912.47,75.92 917.4,76.5 C922.33,77.08 929.27,77.82 935.2,77.9 C941.13,77.98 947.67,77.3 953,77 C958.33,76.7 962.87,76.05 967.2,76.1 C971.53,76.15 974.47,76.7 979,77.3 C983.53,77.9 989.85,79.17 994.4,79.7 C998.95,80.23 1001.35,80.43 1006.3,80.5 C1011.25,80.57 1019.17,80.03 1024.1,80.1 C1029.03,80.17 1030.97,80.47 1035.9,80.9 C1040.83,81.33 1048.1,82.25 1053.7,82.7 C1059.3,83.15 1066.87,83.45 1069.5,83.6" fill="none" stroke="#000" stroke-width="1.5"/>
<path d="M1094,109 L1094.6,109 C1094.5,112.18 1094.1,121.8 1094,128.1 C1093.9,134.4 1093.75,139.62 1094,146.8 C1094.25,153.98 1094.93,163.38 1095.5,171.2 C1096.07,179.02 1096.83,186.2 1097.4,193.7 C1097.97,201.2 1098.43,208.4 1098.9,216.2 C1099.37,224 1099.83,233.02 1100.2,240.5 C1100.57,247.98 1100.48,254.53 1101.1,261.1 C1101.72,267.67 1102.65,273.97 1103.9,279.9 C1105.15,285.83 1107,291.52 1108.6,296.7 C1110.2,301.88 1111.93,306.5 1113.5,311 C1115.07,315.5 1116,318.77 1118,323.7 C1120,328.63 1122.38,334.97 1125.5,340.6 C1128.62,346.23 1133.27,352.18 1136.7,357.5 C1140.13,362.82 1142.67,367.2 1146.1,372.5 C1149.53,377.8 1153.87,384 1157.3,389.3 C1160.73,394.6 1164.27,399.62 1166.7,404.3 C1169.13,408.98 1170.9,413.03 1171.9,417.4 C1172.9,421.77 1173.25,426.12 1172.7,430.5 C1172.15,434.88 1171.17,439.32 1168.6,443.7 C1166.03,448.08 1161.68,452.75 1157.3,456.8 C1152.92,460.85 1147.3,463.95 1142.3,468 C1137.3,472.05 1131.98,476.42 1127.3,481.1 C1122.62,485.78 1117.78,491.42 1114.2,496.1 C1110.62,500.78 1107.82,505.77 1105.8,509.2 C1103.78,512.63 1102.72,515.45 1102.1,516.7 L1094,516.7 Z" fill="#0000FF"/>
<path d="M1094.6,109 C1094.5,112.18 1094.1,121.8 1094,128.1 C1093.9,134.4 1093.75,139.62 1094,146.8 C1094.25,153.98 1094.93,163.38 1095.5,171.2 C1096.07,179.02 1096.83,186.2 1097.4,193.7 C1097.97,201.2 1098.43,208.4 1098.9,216.2 C1099.37,224 1099.83,233.02 1100.2,240.5 C1100.57,247.98 1100.48,254.53 1101.1,261.1 C1101.72,267.67 1102.65,273.97 1103.9,279.9 C1105.15,285.83 1107,291.52 1108.6,296.7 C1110.2,301.88 1111.93,306.5 1113.5,311 C1115.07,315.5 1116,318.77 1118,323.7 C1120,328.63 1122.38,334.97 1125.5,340.6 C1128.62,346.23 1133.27,352.18 1136.7,357.5 C1140.13,362.82 1142.67,367.2 1146.1,372.5 C1149.53,377.8 1153.87,384 1157.3,389.3 C1160.73,394.6 1164.27,399.62 1166.7,404.3 C1169.13,408.98 1170.9,413.03 1171.9,417.4 C1172.9,421.77 1173.25,426.12 1172.7,430.5 C1172.15,434.88 1171.17,439.32 1168.6,443.7 C1166.03,448.08 1161.68,452.75 1157.3,456.8 C1152.92,460.85 1147.3,463.95 1142.3,468 C1137.3,472.05 1131.98,476.42 1127.3,481.1 C1122.62,485.78 1117.78,491.42 1114.2,496.1 C1110.62,500.78 1107.82,505.77 1105.8,509.2 C1103.78,512.63 1102.72,515.45 1102.1,516.7" fill="none" stroke="#000" stroke-width="1.5"/>
</g>
<g>
<line x1="1237.6" y1="467.22" x2="1683.7" y2="467.22" stroke="#EBEBEB" stroke-width="0.8"/>
<line x1="1237.6" y1="379.88" x2="1683.7" y2="379.88" stroke="#EBEBEB" stroke-width="0.8"/>
<line x1="1237.6" y1="292.52" x2="1683.7" y2="292.52" stroke="#EBEBEB" stroke-width="0.8"/>
<line x1="1237.6" y1="205.18" x2="1683.7" y2="205.18" stroke="#EBEBEB" stroke-width="0.8"/>
<line x1="1237.6" y1="117.82" x2="1683.7" y2="117.82" stroke="#EBEBEB" stroke-width="0.8"/>
<line x1="1310.35" y1="89.5" x2="1310.35" y2="537" stroke="#EBEBEB" stroke-width="0.8"/>
<line x1="1429.85" y1="89.5" x2="1429.85" y2="537" stroke="#EBEBEB" stroke-width="0.8"/>
<line x1="1549.35" y1="89.5" x2="1549.35" y2="537" stroke="#EBEBEB" stroke-width="0.8"/>
<line x1="1668.85" y1="89.5" x2="1668.85" y2="537" stroke="#EBEBEB" stroke-width="0.8"/>
<line x1="1237.6" y1="510.9" x2="1683.7" y2="510.9" stroke="#EBEBEB" stroke-width="1.5"/>
<line x1="1237.6" y1="423.55" x2="1683.7" y2="423.55" stroke="#EBEBEB" stroke-width="1.5"/>
<line x1="1237.6" y1="336.2" x2="1683.7" y2="336.2" stroke="#EBEBEB" stroke-width="1.5"/>
<line x1="1237.6" y1="248.85" x2="1683.7" y2="248.85" stroke="#EBEBEB" stroke-width="1.5"/>
<line x1="1237.6" y1="161.5" x2="1683.7" y2="161.5" stroke="#EBEBEB" stroke-width="1.5"/>
<line x1="1250.6" y1="89.5" x2="1250.6" y2="537" stroke="#EBEBEB" stroke-width="1.5"/>
<line x1="1370.1" y1="89.5" x2="1370.1" y2="537" stroke="#EBEBEB" stroke-width="1.5"/>
<line x1="1489.6" y1="89.5" x2="1489.6" y2="537" stroke="#EBEBEB" stroke-width="1.5"/>
<line x1="1609.1" y1="89.5" x2="1609.1" y2="537" stroke="#EBEBEB" stroke-width="1.5"/>
<circle cx="1548.9" cy="109" r="3.05"/>
<circle cx="1458.4" cy="294" r="3.05"/>
<circle cx="1292.1" cy="406.2" r="3.05"/>
<circle cx="1650.6" cy="389.2" r="3.05"/>
<circle cx="1266.4" cy="454.5" r="3.05"/>
<circle cx="1328.3" cy="454.5" r="3.05"/>
<circle cx="1287" cy="471" r="3.05"/>
<circle cx="1293.9" cy="470.4" r="3.05"/>
<circle cx="1288.9" cy="474.1" r="3.05"/>
<circle cx="1286.1" cy="476.6" r="3.05"/>
<circle cx="1320.5" cy="482" r="3.05"/>
<circle cx="1331.1" cy="476.2" r="3.05"/>
<circle cx="1361.4" cy="476.4" r="3.05"/>
<circle cx="1373" cy="468" r="3.05"/>
<circle cx="1388.4" cy="467.6" r="3.05"/>
<circle cx="1398.3" cy="464.7" r="3.05"/>
<circle cx="1258.2" cy="489.3" r="3.05"/>
<circle cx="1264.2" cy="491.6" r="3.05"/>
<circle cx="1333" cy="484.8" r="3.05"/>
<circle cx="1338" cy="487.7" r="3.05"/>
<circle cx="1343.1" cy="489.9" r="3.05"/>
<circle cx="1340.6" cy="496.7" r="3.05"/>
<circle cx="1330.1" cy="496.7" r="3.05"/>
<circle cx="1332.1" cy="500.9" r="3.05"/>
<circle cx="1320.3" cy="499.8" r="3.05"/>
<circle cx="1311.8" cy="495.8" r="3.05"/>
<circle cx="1302.8" cy="497.2" r="3.05"/>
<circle cx="1304.5" cy="500.6" r="3.05"/>
<circle cx="1287.8" cy="496.7" r="3.05"/>
<circle cx="1276.5" cy="500.1" r="3.05"/>
<circle cx="1274.8" cy="501.8" r="3.05"/>
<circle cx="1286.1" cy="502.9" r="3.05"/>
<circle cx="1286.7" cy="507.4" r="3.05"/>
<circle cx="1279.9" cy="507.7" r="3.05"/>
<circle cx="1269.5" cy="507.4" r="3.05"/>
<circle cx="1263.3" cy="506.8" r="3.05"/>
<circle cx="1270" cy="511.1" r="3.05"/>
<circle cx="1257.9" cy="509.9" r="3.05"/>
<circle cx="1292.9" cy="507.7" r="3.05"/>
<circle cx="1290.6" cy="511.4" r="3.05"/>
<circle cx="1298.3" cy="510.8" r="3.05"/>
<circle cx="1304.5" cy="511.4" r="3.05"/>
<circle cx="1303.6" cy="505.1" r="3.05"/>
<circle cx="1309.8" cy="504.6" r="3.05"/>
<circle cx="1313.2" cy="506.8" r="3.05"/>
<circle cx="1309.3" cy="508" r="3.05"/>
<circle cx="1324.2" cy="505.7" r="3.05"/>
<circle cx="1332.7" cy="507.7" r="3.05"/>
<circle cx="1340.3" cy="508.5" r="3.05"/>
<circle cx="1348.8" cy="509.7" r="3.05"/>
<circle cx="1358.1" cy="487.2" r="3.05"/>
<circle cx="1374.1" cy="487.9" r="3.05"/>
<circle cx="1389.4" cy="486.2" r="3.05"/>
<circle cx="1382.6" cy="492.5" r="3.05"/>
<circle cx="1400.9" cy="488.1" r="3.05"/>
<circle cx="1399.2" cy="490.5" r="3.05"/>
<circle cx="1414" cy="478.5" r="3.05"/>
<circle cx="1422.9" cy="476.4" r="3.05"/>
<circle cx="1423.8" cy="487.2" r="3.05"/>
<circle cx="1446" cy="481.6" r="3.05"/>
<circle cx="1442.7" cy="484.6" r="3.05"/>
<circle cx="1442.1" cy="489.2" r="3.05"/>
<circle cx="1461.7" cy="469.3" r="3.05"/>
<circle cx="1461.7" cy="476.8" r="3.05"/>
<circle cx="1418.8" cy="494.8" r="3.05"/>
<circle cx="1352.5" cy="511.4" r="3.05"/>
<circle cx="1355.5" cy="506.9" r="3.05"/>
<circle cx="1358.4" cy="500.7" r="3.05"/>
<circle cx="1362" cy="502.5" r="3.05"/>
<circle cx="1365.6" cy="506.2" r="3.05"/>
<circle cx="1371.7" cy="504.5" r="3.05"/>
<circle cx="1382.9" cy="501" r="3.05"/>
<circle cx="1383.9" cy="502" r="3.05"/>
<circle cx="1388.4" cy="498.6" r="3.05"/>
<circle cx="1383.2" cy="508.2" r="3.05"/>
<circle cx="1383.2" cy="511.2" r="3.05"/>
<circle cx="1395.4" cy="510.1" r="3.05"/>
<circle cx="1405.2" cy="509.5" r="3.05"/>
<circle cx="1407" cy="502.9" r="3.05"/>
<circle cx="1434.9" cy="504.9" r="3.05"/>
<circle cx="1451" cy="505.9" r="3.05"/>
<circle cx="1484.2" cy="475.1" r="3.05"/>
<circle cx="1505.1" cy="455.2" r="3.05"/>
<circle cx="1508.8" cy="476.4" r="3.05"/>
<circle cx="1515.6" cy="478.7" r="3.05"/>
<circle cx="1555.5" cy="439.2" r="3.05"/>
<circle cx="1592.5" cy="470.5" r="3.05"/>
<circle cx="1627.8" cy="476.4" r="3.05"/>
<circle cx="1487.2" cy="499" r="3.05"/>
<circle cx="1514.5" cy="500.6" r="3.05"/>
<circle cx="1568.8" cy="493.8" r="3.05"/>
<circle cx="1575.7" cy="502.5" r="3.05"/>
<circle cx="1557.7" cy="509.9" r="3.05"/>
<circle cx="1572.2" cy="509.2" r="3.05"/>
<circle cx="1625.1" cy="500.7" r="3.05"/>
<circle cx="1663.4" cy="511.2" r="3.05"/>
<path d="M1257.9,489.9 L1268.03,489.18 L1278.16,488.43 L1288.28,487.65 L1298.41,486.83 L1308.54,485.97 L1318.66,485.06 L1328.79,484.1 L1338.92,483.07 L1349.05,481.97 L1359.18,480.79 L1369.3,479.53 L1379.43,478.18 L1389.56,476.74 L1399.68,475.22 L1409.81,473.61 L1419.94,471.93 L1430.07,470.17 L1440.2,468.36 L1450.32,466.49 L1460.45,464.57 L1470.58,462.61 L1480.7,460.61 L1490.83,458.59 L1500.96,456.54 L1511.09,454.47 L1521.22,452.37 L1531.34,450.27 L1541.47,448.14 L1551.6,446.01 L1561.72,443.86 L1571.85,441.7 L1581.98,439.54 L1592.11,437.36 L1602.24,435.18 L1612.36,433 L1622.49,430.81 L1632.62,428.61 L1642.74,426.41 L1652.87,424.21 L1663,422 L1663,474 L1652.87,474.56 L1642.74,475.13 L1632.62,475.7 L1622.49,476.27 L1612.36,476.85 L1602.24,477.44 L1592.11,478.03 L1581.98,478.62 L1571.85,479.23 L1561.72,479.84 L1551.6,480.46 L1541.47,481.1 L1531.34,481.74 L1521.22,482.41 L1511.09,483.08 L1500.96,483.78 L1490.83,484.5 L1480.7,485.25 L1470.58,486.02 L1460.45,486.83 L1450.32,487.68 L1440.2,488.58 L1430.07,489.54 L1419.94,490.55 L1409.81,491.64 L1399.68,492.8 L1389.56,494.05 L1379.43,495.38 L1369.3,496.8 L1359.18,498.31 L1349.05,499.9 L1338.92,501.57 L1328.79,503.31 L1318.66,505.12 L1308.54,506.98 L1298.41,508.89 L1288.28,510.84 L1278.16,512.83 L1268.03,514.85 L1257.9,516.9Z" fill="#999999" fill-opacity="0.4"/>
<line x1="1257.9" y1="503.4" x2="1663" y2="448" stroke="#3D5BFE" stroke-width="2.8"/>
<rect x="1237.6" y="89.5" width="446.1" height="447.5" fill="none" stroke="#444444" stroke-width="1.2"/>
<line x1="1250.6" y1="537" x2="1250.6" y2="541" stroke="#333333" stroke-width="1.1"/>
<text transform="translate(1250.6,553) scale(1,1.0)" text-anchor="middle" font-size="12" fill="#4D4D4D">0.00</text>
<line x1="1370.1" y1="537" x2="1370.1" y2="541" stroke="#333333" stroke-width="1.1"/>
<text transform="translate(1370.1,553) scale(1,1.0)" text-anchor="middle" font-size="12" fill="#4D4D4D">0.25</text>
<line x1="1489.6" y1="537" x2="1489.6" y2="541" stroke="#333333" stroke-width="1.1"/>
<text transform="translate(1489.6,553) scale(1,1.0)" text-anchor="middle" font-size="12" fill="#4D4D4D">0.50</text>
<line x1="1609.1" y1="537" x2="1609.1" y2="541" stroke="#333333" stroke-width="1.1"/>
<text transform="translate(1609.1,553) scale(1,1.0)" text-anchor="middle" font-size="12" fill="#4D4D4D">0.75</text>
<line x1="1233.6" y1="510.9" x2="1237.6" y2="510.9" stroke="#333333" stroke-width="1.1"/>
<text transform="translate(1230.4,515.4) scale(1,1.0)" text-anchor="end" font-size="12" fill="#4D4D4D">0</text>
<line x1="1233.6" y1="423.55" x2="1237.6" y2="423.55" stroke="#333333" stroke-width="1.1"/>
<text transform="translate(1230.4,428.05) scale(1,1.0)" text-anchor="end" font-size="12" fill="#4D4D4D">5</text>
<line x1="1233.6" y1="336.2" x2="1237.6" y2="336.2" stroke="#333333" stroke-width="1.1"/>
<text transform="translate(1230.4,340.7) scale(1,1.0)" text-anchor="end" font-size="12" fill="#4D4D4D">10</text>
<line x1="1233.6" y1="248.85" x2="1237.6" y2="248.85" stroke="#333333" stroke-width="1.1"/>
<text transform="translate(1230.4,253.35) scale(1,1.0)" text-anchor="end" font-size="12" fill="#4D4D4D">15</text>
<line x1="1233.6" y1="161.5" x2="1237.6" y2="161.5" stroke="#333333" stroke-width="1.1"/>
<text transform="translate(1230.4,166) scale(1,1.0)" text-anchor="end" font-size="12" fill="#4D4D4D">20</text>
<text transform="translate(1460.65,569) scale(1,1.0)" text-anchor="middle" font-size="15">HLA score</text>
<text transform="translate(1210.16,313.25) rotate(-90) scale(1,1.0)" text-anchor="middle" font-size="14.7">IL10/TNF</text>
<text transform="translate(1257.8,125.6) scale(1,1.06)" font-size="14.5"><tspan font-style="italic">R</tspan> = 0.3, <tspan font-style="italic">p</tspan> = 0.0018</text>
<text transform="translate(1198.6,52.9) scale(1.07,1)" font-size="40" font-weight="bold">C</text>
<path d="M1257.7,84.6 L1257.7,36.5 C1259.38,34.67 1264.15,29.12 1267.8,25.5 C1271.45,21.88 1275.65,17.77 1279.6,14.8 C1283.55,11.83 1288.02,9.45 1291.5,7.7 C1294.98,5.95 1297.5,5 1300.5,4.3 C1303.5,3.6 1306.33,3.48 1309.5,3.5 C1312.67,3.52 1315.58,3.5 1319.5,4.4 C1323.42,5.3 1327.8,7.07 1333,8.9 C1338.2,10.73 1344.78,13.43 1350.7,15.4 C1356.62,17.37 1362.57,18.82 1368.5,20.7 C1374.43,22.58 1380.37,24.32 1386.3,26.7 C1392.23,29.08 1398.18,32.05 1404.1,35 C1410.02,37.95 1415.88,41.55 1421.8,44.4 C1427.72,47.25 1434.07,50 1439.6,52.1 C1445.13,54.2 1450.37,55.58 1455,57 C1459.63,58.42 1463.27,59.47 1467.4,60.6 C1471.53,61.73 1475.67,62.88 1479.8,63.8 C1483.93,64.72 1488.05,65.47 1492.2,66.1 C1496.35,66.73 1499.52,67.15 1504.7,67.6 C1509.88,68.05 1517.1,68.53 1523.3,68.8 C1529.5,69.07 1535.7,69.13 1541.9,69.2 C1548.1,69.27 1555.33,69.1 1560.5,69.2 C1565.67,69.3 1568.75,69.38 1572.9,69.8 C1577.05,70.22 1580.22,71.03 1585.4,71.7 C1590.58,72.37 1597.8,73.18 1604,73.8 C1610.2,74.42 1616.4,74.88 1622.6,75.4 C1628.8,75.92 1634.47,76.35 1641.2,76.9 C1647.93,77.45 1659.37,78.4 1663,78.7 L1663,84.6 Z" fill="#E8A428"/>
<path d="M1257.7,36.5 C1259.38,34.67 1264.15,29.12 1267.8,25.5 C1271.45,21.88 1275.65,17.77 1279.6,14.8 C1283.55,11.83 1288.02,9.45 1291.5,7.7 C1294.98,5.95 1297.5,5 1300.5,4.3 C1303.5,3.6 1306.33,3.48 1309.5,3.5 C1312.67,3.52 1315.58,3.5 1319.5,4.4 C1323.42,5.3 1327.8,7.07 1333,8.9 C1338.2,10.73 1344.78,13.43 1350.7,15.4 C1356.62,17.37 1362.57,18.82 1368.5,20.7 C1374.43,22.58 1380.37,24.32 1386.3,26.7 C1392.23,29.08 1398.18,32.05 1404.1,35 C1410.02,37.95 1415.88,41.55 1421.8,44.4 C1427.72,47.25 1434.07,50 1439.6,52.1 C1445.13,54.2 1450.37,55.58 1455,57 C1459.63,58.42 1463.27,59.47 1467.4,60.6 C1471.53,61.73 1475.67,62.88 1479.8,63.8 C1483.93,64.72 1488.05,65.47 1492.2,66.1 C1496.35,66.73 1499.52,67.15 1504.7,67.6 C1509.88,68.05 1517.1,68.53 1523.3,68.8 C1529.5,69.07 1535.7,69.13 1541.9,69.2 C1548.1,69.27 1555.33,69.1 1560.5,69.2 C1565.67,69.3 1568.75,69.38 1572.9,69.8 C1577.05,70.22 1580.22,71.03 1585.4,71.7 C1590.58,72.37 1597.8,73.18 1604,73.8 C1610.2,74.42 1616.4,74.88 1622.6,75.4 C1628.8,75.92 1634.47,76.35 1641.2,76.9 C1647.93,77.45 1659.37,78.4 1663,78.7" fill="none" stroke="#000" stroke-width="1.5"/>
<path d="M1687.9,108.8 L1688.6,108.8 C1688.52,114 1688.2,124.8 1688.1,140 C1688,155.2 1688.02,178 1688,200 C1687.98,222 1687.9,258.17 1688,272 C1688.1,285.83 1688.38,279.67 1688.6,283 C1688.82,286.33 1689.3,289 1689.3,292 C1689.3,295 1688.82,297.67 1688.6,301 C1688.38,304.33 1688.1,300.17 1688,312 C1687.9,323.83 1687.88,360.33 1688,372 C1688.12,383.67 1688.48,378.67 1688.7,382 C1688.92,385.33 1689.22,388.67 1689.3,392 C1689.38,395.33 1689.32,398.67 1689.2,402 C1689.08,405.33 1688.78,408.83 1688.6,412 C1688.42,415.17 1688.18,418.22 1688.1,421 C1688.02,423.78 1687.88,425.97 1688.1,428.7 C1688.32,431.43 1688.97,434.48 1689.4,437.4 C1689.83,440.32 1690.05,443.58 1690.7,446.2 C1691.35,448.82 1692.35,450.78 1693.3,453.1 C1694.25,455.42 1694.93,458.07 1696.4,460.1 C1697.87,462.13 1700,463.7 1702.1,465.3 C1704.2,466.9 1706.83,468.23 1709,469.7 C1711.17,471.17 1713.5,472.5 1715.1,474.1 C1716.7,475.7 1717.65,477.57 1718.6,479.3 C1719.55,481.03 1719.63,482.9 1720.8,484.5 C1721.97,486.1 1723.35,487.43 1725.6,488.9 C1727.85,490.37 1730.67,491.92 1734.3,493.3 C1737.93,494.68 1743.03,495.97 1747.4,497.2 C1751.77,498.43 1756.93,499.4 1760.5,500.7 C1764.07,502 1768.08,503.92 1768.8,505 C1769.52,506.08 1767.63,506.4 1764.8,507.2 C1761.97,508 1756.88,508.85 1751.8,509.8 C1746.72,510.75 1740.42,511.73 1734.3,512.9 C1728.18,514.07 1718.3,516.15 1715.1,516.8 L1687.9,516.8 Z" fill="#0000FF"/>
<path d="M1688.6,108.8 C1688.52,114 1688.2,124.8 1688.1,140 C1688,155.2 1688.02,178 1688,200 C1687.98,222 1687.9,258.17 1688,272 C1688.1,285.83 1688.38,279.67 1688.6,283 C1688.82,286.33 1689.3,289 1689.3,292 C1689.3,295 1688.82,297.67 1688.6,301 C1688.38,304.33 1688.1,300.17 1688,312 C1687.9,323.83 1687.88,360.33 1688,372 C1688.12,383.67 1688.48,378.67 1688.7,382 C1688.92,385.33 1689.22,388.67 1689.3,392 C1689.38,395.33 1689.32,398.67 1689.2,402 C1689.08,405.33 1688.78,408.83 1688.6,412 C1688.42,415.17 1688.18,418.22 1688.1,421 C1688.02,423.78 1687.88,425.97 1688.1,428.7 C1688.32,431.43 1688.97,434.48 1689.4,437.4 C1689.83,440.32 1690.05,443.58 1690.7,446.2 C1691.35,448.82 1692.35,450.78 1693.3,453.1 C1694.25,455.42 1694.93,458.07 1696.4,460.1 C1697.87,462.13 1700,463.7 1702.1,465.3 C1704.2,466.9 1706.83,468.23 1709,469.7 C1711.17,471.17 1713.5,472.5 1715.1,474.1 C1716.7,475.7 1717.65,477.57 1718.6,479.3 C1719.55,481.03 1719.63,482.9 1720.8,484.5 C1721.97,486.1 1723.35,487.43 1725.6,488.9 C1727.85,490.37 1730.67,491.92 1734.3,493.3 C1737.93,494.68 1743.03,495.97 1747.4,497.2 C1751.77,498.43 1756.93,499.4 1760.5,500.7 C1764.07,502 1768.08,503.92 1768.8,505 C1769.52,506.08 1767.63,506.4 1764.8,507.2 C1761.97,508 1756.88,508.85 1751.8,509.8 C1746.72,510.75 1740.42,511.73 1734.3,512.9 C1728.18,514.07 1718.3,516.15 1715.1,516.8" fill="none" stroke="#000" stroke-width="1.5"/>
</g>
<g>
<path d="M715.45,657.4 C715.63,658.18 716.1,660.02 716.55,662.1 C717,664.18 717.92,667.82 718.15,669.9 C718.38,671.98 718.22,672.9 717.95,674.6 C717.68,676.3 717.15,678.27 716.55,680.1 C715.95,681.93 715.17,683.63 714.35,685.6 C713.53,687.57 712.22,690.07 711.65,691.9 C711.08,693.73 711.07,695.82 710.95,696.6 L708.55,696.6 C708.43,695.82 708.42,693.73 707.85,691.9 C707.28,690.07 705.97,687.57 705.15,685.6 C704.33,683.63 703.55,681.93 702.95,680.1 C702.35,678.27 701.82,676.3 701.55,674.6 C701.28,672.9 701.12,671.98 701.35,669.9 C701.58,667.82 702.5,664.18 702.95,662.1 C703.4,660.02 703.87,658.18 704.05,657.4 Z" fill="#0000FF" stroke="#000" stroke-width="1.05"/>
<line x1="709.75" y1="657.4" x2="709.75" y2="696.6" stroke="#000" stroke-width="1"/>
<line x1="709.75" y1="658.2" x2="709.75" y2="682.5" stroke="#000" stroke-width="2.3"/>
<circle cx="709.75" cy="671.5" r="4.6" fill="#FFF"/>
<path d="M733.3,624.3 C733.51,625.37 733.84,628.33 734.55,630.7 C735.26,633.07 736.63,635.88 737.55,638.5 C738.47,641.12 739.5,643.78 740.05,646.4 C740.6,649.02 740.7,651.58 740.85,654.2 C741,656.82 741.12,659.48 740.95,662.1 C740.78,664.72 740.42,667.28 739.85,669.9 C739.28,672.52 738.22,675.45 737.55,677.8 C736.88,680.15 736.13,682.77 735.85,684 C735.57,685.23 735.85,685 735.85,685.2 L728.85,685.2 C728.85,685 729.13,685.23 728.85,684 C728.57,682.77 727.82,680.15 727.15,677.8 C726.48,675.45 725.42,672.52 724.85,669.9 C724.28,667.28 723.92,664.72 723.75,662.1 C723.58,659.48 723.7,656.82 723.85,654.2 C724,651.58 724.1,649.02 724.65,646.4 C725.2,643.78 726.23,641.12 727.15,638.5 C728.07,635.88 729.44,633.07 730.15,630.7 C730.86,628.33 731.19,625.37 731.4,624.3 Z" fill="#DD0000" stroke="#000" stroke-width="1.05"/>
<line x1="732.35" y1="624.3" x2="732.35" y2="685.2" stroke="#000" stroke-width="1"/>
<line x1="732.35" y1="648.7" x2="732.35" y2="670.7" stroke="#000" stroke-width="2.3"/>
<circle cx="732.35" cy="660.5" r="4.6" fill="#FFF"/>
<path d="M781.45,693.9 C781.87,695.1 783.25,698.45 783.95,701.1 C784.65,703.75 785.27,706.9 785.65,709.8 C786.03,712.7 786.2,715.58 786.25,718.5 C786.3,721.42 786.18,724.38 785.95,727.3 C785.72,730.22 785.3,733.1 784.85,736 C784.4,738.9 783.83,741.8 783.25,744.7 C782.67,747.6 781.98,750.48 781.35,753.4 C780.72,756.32 779.95,759.28 779.45,762.2 C778.95,765.12 778.58,768.72 778.35,770.9 C778.12,773.08 778.12,773.2 778.05,775.3 C777.98,777.4 777.97,782.13 777.95,783.5 L776.55,783.5 C776.53,782.13 776.52,777.4 776.45,775.3 C776.38,773.2 776.38,773.08 776.15,770.9 C775.92,768.72 775.55,765.12 775.05,762.2 C774.55,759.28 773.78,756.32 773.15,753.4 C772.52,750.48 771.83,747.6 771.25,744.7 C770.67,741.8 770.1,738.9 769.65,736 C769.2,733.1 768.78,730.22 768.55,727.3 C768.32,724.38 768.2,721.42 768.25,718.5 C768.3,715.58 768.47,712.7 768.85,709.8 C769.23,706.9 769.85,703.75 770.55,701.1 C771.25,698.45 772.63,695.1 773.05,693.9 Z" fill="#0000FF" stroke="#000" stroke-width="1.05"/>
<line x1="777.25" y1="693.9" x2="777.25" y2="783.5" stroke="#000" stroke-width="1"/>
<line x1="777.25" y1="711.1" x2="777.25" y2="743.4" stroke="#000" stroke-width="2.3"/>
<circle cx="777.25" cy="722.9" r="4.6" fill="#FFF"/>
<path d="M801.75,766.9 C801.91,769.57 802.29,777.68 802.7,782.9 C803.11,788.12 803.72,793.12 804.2,798.2 C804.68,803.28 805.15,808.32 805.6,813.4 C806.05,818.48 806.57,823.6 806.9,828.7 C807.23,833.8 807.43,838.92 807.6,844 C807.77,849.08 808,854.12 807.9,859.2 C807.8,864.28 807.5,869.4 807,874.5 C806.5,879.6 805.67,884.72 804.9,889.8 C804.13,894.88 803.13,899.92 802.4,905 C801.67,910.08 800.82,916.73 800.5,920.3 C800.18,923.87 800.5,925.38 800.5,926.4 L798.5,926.4 C798.5,925.38 798.82,923.87 798.5,920.3 C798.18,916.73 797.33,910.08 796.6,905 C795.87,899.92 794.87,894.88 794.1,889.8 C793.33,884.72 792.5,879.6 792,874.5 C791.5,869.4 791.2,864.28 791.1,859.2 C791,854.12 791.23,849.08 791.4,844 C791.57,838.92 791.77,833.8 792.1,828.7 C792.43,823.6 792.95,818.48 793.4,813.4 C793.85,808.32 794.32,803.28 794.8,798.2 C795.28,793.12 795.89,788.12 796.3,782.9 C796.71,777.68 797.09,769.57 797.25,766.9 Z" fill="#DD0000" stroke="#000" stroke-width="1.05"/>
<line x1="799.5" y1="766.9" x2="799.5" y2="926.4" stroke="#000" stroke-width="1"/>
<line x1="799.5" y1="815" x2="799.5" y2="873.7" stroke="#000" stroke-width="2.3"/>
<circle cx="799.5" cy="850.8" r="4.6" fill="#FFF"/>
<path d="M851.1,789 C851.35,792.52 852.35,803.23 852.6,810.1 C852.85,816.97 852.78,823.52 852.6,830.2 C852.42,836.88 852.02,843.52 851.5,850.2 C850.98,856.88 850.12,863.6 849.5,870.3 C848.88,877 848.22,883.72 847.8,890.4 C847.38,897.08 847.13,903.72 847,910.4 C846.87,917.08 847,923.8 847,930.5 C847,937.2 846.98,943.92 847,950.6 C847.02,957.28 847.13,963.92 847.1,970.6 C847.07,977.28 846.85,985.5 846.8,990.7 C846.75,995.9 846.8,999.95 846.8,1001.8 L841.8,1001.8 C841.8,999.95 841.85,995.9 841.8,990.7 C841.75,985.5 841.53,977.28 841.5,970.6 C841.47,963.92 841.58,957.28 841.6,950.6 C841.62,943.92 841.6,937.2 841.6,930.5 C841.6,923.8 841.73,917.08 841.6,910.4 C841.47,903.72 841.22,897.08 840.8,890.4 C840.38,883.72 839.72,877 839.1,870.3 C838.48,863.6 837.62,856.88 837.1,850.2 C836.58,843.52 836.18,836.88 836,830.2 C835.82,823.52 835.75,816.97 836,810.1 C836.25,803.23 837.25,792.52 837.5,789 Z" fill="#0000FF" stroke="#000" stroke-width="1.05"/>
<line x1="844.3" y1="789" x2="844.3" y2="968.4" stroke="#000" stroke-width="1"/>
<line x1="844.3" y1="817.1" x2="844.3" y2="878.3" stroke="#000" stroke-width="2.3"/>
<circle cx="844.3" cy="836.2" r="4.6" fill="#FFF"/>
<path d="M868.6,838.2 C868.98,841.88 870.08,853.28 870.9,860.3 C871.72,867.32 872.83,873.62 873.5,880.3 C874.17,886.98 874.75,893.7 874.9,900.4 C875.05,907.1 874.88,913.82 874.4,920.5 C873.92,927.18 872.72,933.77 872,940.5 C871.28,947.23 870.62,954.02 870.1,960.9 C869.58,967.78 869.18,974.83 868.9,981.8 C868.62,988.77 868.58,995.73 868.4,1002.7 C868.22,1009.67 867.98,1016.63 867.8,1023.6 C867.62,1030.57 867.4,1039.27 867.3,1044.5 C867.2,1049.73 867.22,1053.25 867.2,1055 L866.2,1055 C866.18,1053.25 866.2,1049.73 866.1,1044.5 C866,1039.27 865.78,1030.57 865.6,1023.6 C865.42,1016.63 865.18,1009.67 865,1002.7 C864.82,995.73 864.78,988.77 864.5,981.8 C864.22,974.83 863.82,967.78 863.3,960.9 C862.78,954.02 862.12,947.23 861.4,940.5 C860.68,933.77 859.48,927.18 859,920.5 C858.52,913.82 858.35,907.1 858.5,900.4 C858.65,893.7 859.23,886.98 859.9,880.3 C860.57,873.62 861.68,867.32 862.5,860.3 C863.32,853.28 864.42,841.88 864.8,838.2 Z" fill="#DD0000" stroke="#000" stroke-width="1.05"/>
<line x1="866.7" y1="838.2" x2="866.7" y2="1026.7" stroke="#000" stroke-width="1"/>
<line x1="866.7" y1="885.4" x2="866.7" y2="942.6" stroke="#000" stroke-width="2.3"/>
<circle cx="866.7" cy="909.4" r="4.6" fill="#FFF"/>
<path d="M912.7,651.9 C912.83,654.12 912.9,661.1 913.5,665.2 C914.1,669.3 915.42,672.75 916.3,676.5 C917.18,680.25 918.18,684.22 918.8,687.7 C919.42,691.18 920,694.17 920,697.4 C920,700.63 919.55,703.87 918.8,707.1 C918.05,710.33 916.38,714.12 915.5,716.8 C914.62,719.48 913.9,721.53 913.5,723.2 C913.1,724.87 913.17,726.2 913.1,726.8 L910.1,726.8 C910.03,726.2 910.1,724.87 909.7,723.2 C909.3,721.53 908.58,719.48 907.7,716.8 C906.82,714.12 905.15,710.33 904.4,707.1 C903.65,703.87 903.2,700.63 903.2,697.4 C903.2,694.17 903.78,691.18 904.4,687.7 C905.02,684.22 906.02,680.25 906.9,676.5 C907.78,672.75 909.1,669.3 909.7,665.2 C910.3,661.1 910.37,654.12 910.5,651.9 Z" fill="#0000FF" stroke="#000" stroke-width="1.05"/>
<line x1="911.6" y1="651.9" x2="911.6" y2="726.8" stroke="#000" stroke-width="1"/>
<line x1="911.6" y1="685.3" x2="911.6" y2="704.7" stroke="#000" stroke-width="2.3"/>
<circle cx="911.6" cy="693.9" r="4.6" fill="#FFF"/>
<path d="M935.5,625.2 C935.7,628.37 936.23,638.35 936.7,644.2 C937.17,650.05 937.83,654.92 938.3,660.3 C938.77,665.68 939.08,671.12 939.5,676.5 C939.92,681.88 940.38,687.23 940.8,692.6 C941.22,697.97 941.73,703.33 942,708.7 C942.27,714.07 942.53,719.42 942.4,724.8 C942.27,730.18 941.82,735.62 941.2,741 C940.58,746.38 939.58,751.73 938.7,757.1 C937.82,762.47 936.57,767.82 935.9,773.2 C935.23,778.58 934.93,785.03 934.7,789.4 C934.47,793.77 934.53,797.73 934.5,799.4 L933.5,799.4 C933.47,797.73 933.53,793.77 933.3,789.4 C933.07,785.03 932.77,778.58 932.1,773.2 C931.43,767.82 930.18,762.47 929.3,757.1 C928.42,751.73 927.42,746.38 926.8,741 C926.18,735.62 925.73,730.18 925.6,724.8 C925.47,719.42 925.73,714.07 926,708.7 C926.27,703.33 926.78,697.97 927.2,692.6 C927.62,687.23 928.08,681.88 928.5,676.5 C928.92,671.12 929.23,665.68 929.7,660.3 C930.17,654.92 930.83,650.05 931.3,644.2 C931.77,638.35 932.3,628.37 932.5,625.2 Z" fill="#DD0000" stroke="#000" stroke-width="1.05"/>
<line x1="934" y1="625.2" x2="934" y2="799.4" stroke="#000" stroke-width="1"/>
<line x1="934" y1="684.5" x2="934" y2="734.5" stroke="#000" stroke-width="2.3"/>
<circle cx="934" cy="717.3" r="4.6" fill="#FFF"/>
<path d="M981.9,832.2 C982.22,834.68 983.15,842 983.8,847.1 C984.45,852.2 985.2,857.57 985.8,862.8 C986.4,868.03 987.08,874.57 987.4,878.5 C987.72,882.43 987.78,883.78 987.7,886.4 C987.62,889.02 987.48,891.32 986.9,894.2 C986.32,897.08 984.98,900.82 984.2,903.7 C983.42,906.58 982.53,910.2 982.2,911.5 L975.8,911.5 C975.47,910.2 974.58,906.58 973.8,903.7 C973.02,900.82 971.68,897.08 971.1,894.2 C970.52,891.32 970.38,889.02 970.3,886.4 C970.22,883.78 970.28,882.43 970.6,878.5 C970.92,874.57 971.6,868.03 972.2,862.8 C972.8,857.57 973.55,852.2 974.2,847.1 C974.85,842 975.78,834.68 976.1,832.2 Z" fill="#0000FF" stroke="#000" stroke-width="1.05"/>
<line x1="979" y1="832.2" x2="979" y2="911.5" stroke="#000" stroke-width="1"/>
<line x1="979" y1="855.8" x2="979" y2="894.2" stroke="#000" stroke-width="2.3"/>
<circle cx="979" cy="875.4" r="4.6" fill="#FFF"/>
<path d="M1002.1,808.6 C1002.18,812.4 1002.4,824.98 1002.6,831.4 C1002.8,837.82 1002.97,841.87 1003.3,847.1 C1003.63,852.33 1004.1,857.57 1004.6,862.8 C1005.1,868.03 1005.68,873.27 1006.3,878.5 C1006.92,883.73 1007.78,888.97 1008.3,894.2 C1008.82,899.43 1009.17,905.18 1009.4,909.9 C1009.63,914.62 1009.78,918.57 1009.7,922.5 C1009.62,926.43 1009.43,929.05 1008.9,933.5 C1008.37,937.95 1007.33,943.97 1006.5,949.2 C1005.67,954.43 1004.4,960.97 1003.9,964.9 C1003.4,968.83 1003.57,971.48 1003.5,972.8 L999.1,972.8 C999.03,971.48 999.2,968.83 998.7,964.9 C998.2,960.97 996.93,954.43 996.1,949.2 C995.27,943.97 994.23,937.95 993.7,933.5 C993.17,929.05 992.98,926.43 992.9,922.5 C992.82,918.57 992.97,914.62 993.2,909.9 C993.43,905.18 993.78,899.43 994.3,894.2 C994.82,888.97 995.68,883.73 996.3,878.5 C996.92,873.27 997.5,868.03 998,862.8 C998.5,857.57 998.97,852.33 999.3,847.1 C999.63,841.87 999.8,837.82 1000,831.4 C1000.2,824.98 1000.42,812.4 1000.5,808.6 Z" fill="#DD0000" stroke="#000" stroke-width="1.05"/>
<line x1="1001.3" y1="829.8" x2="1001.3" y2="972.8" stroke="#000" stroke-width="1"/>
<line x1="1001.3" y1="891.9" x2="1001.3" y2="934.3" stroke="#000" stroke-width="2.3"/>
<circle cx="1001.3" cy="914.3" r="4.6" fill="#FFF"/>
<rect x="697" y="606" width="339.3" height="466.3" fill="none" stroke="#000" stroke-width="1.2"/>
<line x1="686.6" y1="1013.6" x2="697" y2="1013.6" stroke="#000" stroke-width="1.1"/>
<text transform="translate(676,1020.2) scale(1,1.05)" text-anchor="end" font-size="17">4</text>
<line x1="686.6" y1="902.2" x2="697" y2="902.2" stroke="#000" stroke-width="1.1"/>
<text transform="translate(676,908.8) scale(1,1.05)" text-anchor="end" font-size="17">6</text>
<line x1="686.6" y1="790.8" x2="697" y2="790.8" stroke="#000" stroke-width="1.1"/>
<text transform="translate(676,797.4) scale(1,1.05)" text-anchor="end" font-size="17">8</text>
<line x1="686.6" y1="679.4" x2="697" y2="679.4" stroke="#000" stroke-width="1.1"/>
<text transform="translate(676,686) scale(1,1.05)" text-anchor="end" font-size="17">10</text>
<text transform="translate(629.8,839.2) rotate(-90)" text-anchor="middle" font-size="17.7">Expression</text>
<text transform="translate(604.8,624.9) scale(1.07,1)" font-size="40" font-weight="bold">D</text>
<text transform="translate(701.3,618.9) scale(1,1.03)" font-size="14.5">p=0.002</text>
<line x1="711.8" y1="624.4" x2="728" y2="624.4" stroke="#000" stroke-width="1"/>
<text transform="translate(768.8,688.6) scale(1,1.03)" font-size="14.5">p&lt;0.001</text>
<line x1="772.8" y1="694.1" x2="795.4" y2="694.1" stroke="#000" stroke-width="1"/>
<text transform="translate(835.5,784.6) scale(1,1.03)" font-size="14.5">p&lt;0.001</text>
<line x1="837" y1="789" x2="862.6" y2="789" stroke="#000" stroke-width="1"/>
<text transform="translate(903.2,619.8) scale(1,1.03)" font-size="14.5">p=0.014</text>
<line x1="913.8" y1="624.8" x2="930.4" y2="624.8" stroke="#000" stroke-width="1"/>
<text transform="translate(970.5,803.2) scale(1,1.03)" font-size="14.5">p&lt;0.001</text>
<line x1="981" y1="808.6" x2="997.6" y2="808.6" stroke="#000" stroke-width="1"/>
<text transform="translate(723.8,1090.4) rotate(-45) scale(1,1.0)" text-anchor="end" font-size="14.6">B2M</text>
<text transform="translate(791,1090.4) rotate(-45) scale(1,1.0)" text-anchor="end" font-size="14.6">HLA−DPA1</text>
<text transform="translate(858.3,1090.4) rotate(-45) scale(1,1.0)" text-anchor="end" font-size="14.6">HLA−DQA1</text>
<text transform="translate(925.8,1090.4) rotate(-45) scale(1,1.0)" text-anchor="end" font-size="14.6">TAP1</text>
<text transform="translate(992.8,1090.4) rotate(-45) scale(1,1.0)" text-anchor="end" font-size="14.6">TAP2</text>
</g>
</svg></body></html>
